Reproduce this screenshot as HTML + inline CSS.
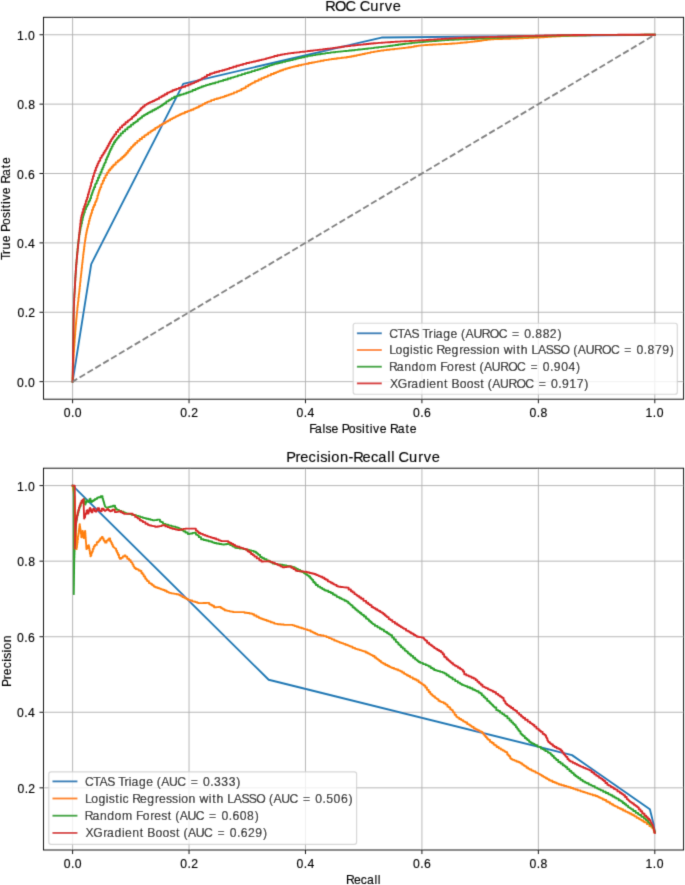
<!DOCTYPE html><html><head><meta charset="utf-8"><title>ROC and Precision-Recall Curves</title><style>html,body{margin:0;padding:0;background:#fff;}svg{display:block;}text{font-family:"Liberation Sans",sans-serif;fill:#000;font-kerning:none;stroke:#000;stroke-width:0.14px;}</style></head><body>
<svg width="685" height="885" viewBox="0 0 685 885">
<defs><filter id="soft" filterUnits="userSpaceOnUse" x="0" y="0" width="685" height="885"><feConvolveMatrix order="3" kernelMatrix="0.01690 0.09620 0.01690 0.09620 0.54760 0.09620 0.01690 0.09620 0.01690" edgeMode="duplicate"/></filter></defs>
<rect width="685" height="885" fill="#fff"/>
<g filter="url(#soft)">
<line x1="72.6" y1="17.3" x2="72.6" y2="399.2" stroke="#b0b0b0" stroke-width="0.92"/>
<line x1="189.04" y1="17.3" x2="189.04" y2="399.2" stroke="#b0b0b0" stroke-width="0.92"/>
<line x1="305.48" y1="17.3" x2="305.48" y2="399.2" stroke="#b0b0b0" stroke-width="0.92"/>
<line x1="421.92" y1="17.3" x2="421.92" y2="399.2" stroke="#b0b0b0" stroke-width="0.92"/>
<line x1="538.36" y1="17.3" x2="538.36" y2="399.2" stroke="#b0b0b0" stroke-width="0.92"/>
<line x1="654.8" y1="17.3" x2="654.8" y2="399.2" stroke="#b0b0b0" stroke-width="0.92"/>
<line x1="43.5" y1="381.65" x2="683.6" y2="381.65" stroke="#b0b0b0" stroke-width="0.92"/>
<line x1="43.5" y1="312.27" x2="683.6" y2="312.27" stroke="#b0b0b0" stroke-width="0.92"/>
<line x1="43.5" y1="242.89" x2="683.6" y2="242.89" stroke="#b0b0b0" stroke-width="0.92"/>
<line x1="43.5" y1="173.51" x2="683.6" y2="173.51" stroke="#b0b0b0" stroke-width="0.92"/>
<line x1="43.5" y1="104.13" x2="683.6" y2="104.13" stroke="#b0b0b0" stroke-width="0.92"/>
<line x1="43.5" y1="34.75" x2="683.6" y2="34.75" stroke="#b0b0b0" stroke-width="0.92"/>
<polyline points="72.6,381.65 91.23,264.05 183.22,83.8 381.52,37.53 654.8,34.75" fill="none" stroke="#1f77b4" stroke-width="1.85" stroke-linecap="square" stroke-linejoin="round"/>
<polyline points="72.6,381.65 72.62,381.65 72.62,380.42 72.71,380.42 72.71,377.3 72.83,377.3 72.83,374.41 72.93,374.41 72.93,372.86 73.01,372.86 73.01,370.67 73.1,370.67 73.1,368.6 73.2,368.6 73.2,366.01 73.32,366.01 73.32,363.05 73.42,363.05 73.42,361.92 73.47,361.92 73.47,360.97 73.56,360.97 73.56,357.88 73.69,357.88 73.69,355.86 73.81,355.86 73.81,352.98 73.91,352.98 73.91,352.09 73.99,352.09 73.99,350.04 74.13,350.04 74.13,347.26 74.26,347.26 74.26,345.78 74.42,345.78 74.42,342.41 74.65,342.41 74.65,339.16 74.8,339.16 74.8,338.2 74.87,338.2 74.87,337.26 74.99,337.26 74.99,334.95 75.21,334.95 75.21,331.6 75.41,331.6 75.41,329.72 75.55,329.72 75.55,328.28 75.69,328.28 75.69,326.29 75.81,326.29 75.81,325.34 75.91,325.34 75.91,323.88 76.06,323.88 76.06,321.85 76.25,321.85 76.25,319.67 76.41,319.67 76.41,318.18 76.55,318.18 76.55,316.69 76.68,316.69 76.68,315.24 76.84,315.24 76.84,313.16 77.02,313.16 77.02,311.52 77.14,311.52 77.14,310.59 77.35,310.59 77.35,307.51 77.63,307.51 77.63,305.18 77.9,305.18 77.9,302.62 78.12,302.62 78.12,301.26 78.4,301.26 78.4,297.78 78.78,297.78 78.78,294.65 79.02,294.65 79.02,293.46 79.19,293.46 79.19,291.71 79.44,291.71 79.44,288.94 79.74,288.94 79.74,286.2 80.06,286.2 80.06,282.87 80.34,282.87 80.34,280.88 80.6,280.88 80.6,277.83 80.9,277.83 80.9,275.19 81.13,275.19 81.13,273.52 81.35,273.52 81.35,271.1 81.66,271.1 81.66,267.91 82.01,267.91 82.01,264.82 82.3,264.82 82.3,262.62 82.57,262.62 82.57,260.2 82.76,260.2 82.76,259.24 82.9,259.24 82.9,257.72 83.15,257.72 83.15,254.76 83.44,254.76 83.44,252.8 83.63,252.8 83.63,251.47 83.86,251.47 83.86,249.16 84.17,249.16 84.17,246.45 84.52,246.45 84.52,243.81 84.83,243.81 84.83,241.96 85.1,241.96 85.1,239.94 85.41,239.94 85.41,237.74 85.81,237.74 85.81,234.85 86.26,234.85 86.26,232.63 86.67,232.63 86.67,230.75 87.1,230.75 87.1,228.63 87.45,228.63 87.45,227.7 87.67,227.7 87.67,226.73 88.11,226.73 88.11,224.07 88.87,224.07 88.87,220.71 89.61,220.71 89.61,218.34 90.19,218.34 90.19,216.49 90.63,216.49 90.63,215.22 91.13,215.22 91.13,213.1 91.97,213.1 91.97,209.8 93.03,209.8 93.03,207.08 94.01,207.08 94.01,204.97 95.11,204.97 95.11,202.08 96.02,202.08 96.02,200.69 96.66,200.69 96.66,198.58 97.49,198.58 97.49,195.32 98.29,195.32 98.29,193 98.93,193 98.93,191.01 99.5,191.01 99.5,189.51 100.18,189.51 100.18,187.34 101.25,187.34 101.25,184.18 102.07,184.18 102.07,183.36 102.84,183.36 102.84,180.66 104.09,180.66 104.09,177.91 105.5,177.91 105.5,175.07 107,175.07 107,172.66 108.62,172.66 108.62,170.21 110.21,170.21 110.21,168.46 111.71,168.46 111.71,166.7 113.18,166.7 113.18,165.24 114.22,165.24 114.22,164.49 115.73,164.49 115.73,162.31 117.79,162.31 117.79,160.77 119.24,160.77 119.24,159.87 120.63,159.87 120.63,158.45 122.3,158.45 122.3,157.04 123.78,157.04 123.78,155.79 125.06,155.79 125.06,154.49 126.43,154.49 126.43,152.75 127.97,152.75 127.97,150.78 129.55,150.78 129.55,148.84 131.03,148.84 131.03,147.28 132.05,147.28 132.05,146.58 132.88,146.58 132.88,145.5 133.86,145.5 133.86,144.53 135.21,144.53 135.21,142.87 137.29,142.87 137.29,140.82 139.66,140.82 139.66,138.96 142.01,138.96 142.01,137.15 144.42,137.15 144.42,135.35 146.28,135.35 146.28,134.44 148.17,134.44 148.17,132.65 150.53,132.65 150.53,131.13 152.07,131.13 152.07,130.51 152.91,130.51 152.91,129.99 153.67,129.99 153.67,129.48 155.26,129.48 155.26,127.9 157.11,127.9 157.11,127.07 158.25,127.07 158.25,126.45 159.82,126.45 159.82,125.12 161.66,125.12 161.66,124.2 162.88,124.2 162.88,123.65 163.9,123.65 163.9,123 165.45,123 165.45,121.86 167.01,121.86 167.01,121.21 168.28,121.21 168.28,120.42 170.19,120.42 170.19,119.1 172.31,119.1 172.31,118.12 174,118.12 174,117.31 175.71,117.31 175.71,116.35 177.09,116.35 177.09,115.93 178.36,115.93 178.36,115.09 180.11,115.09 180.11,114.24 181.64,114.24 181.64,113.68 182.8,113.68 182.8,113.21 184.85,113.21 184.85,111.97 187.39,111.97 187.39,111.16 189.09,111.16 189.09,110.64 190.91,110.64 190.91,109.73 193.46,109.73 193.46,108.55 195.29,108.55 195.29,108.17 196.13,108.17 196.13,107.77 197.12,107.77 197.12,107.22 198.93,107.22 198.93,105.97 200.75,105.97 200.75,105.37 202.54,105.37 202.54,104.1 204.95,104.1 204.95,102.89 207.19,102.89 207.19,101.9 208.9,101.9 208.9,101.31 211.19,101.31 211.19,100.08 214.22,100.08 214.22,99.16 216.72,99.16 216.72,98.53 218.5,98.53 218.5,98.12 220.45,98.12 220.45,97.38 222.61,97.38 222.61,96.8 224.66,96.8 224.66,96.01 226.61,96.01 226.61,95.43 228.62,95.43 228.62,94.56 230.3,94.56 230.3,94.21 231.56,94.21 231.56,93.62 233.94,93.62 233.94,92.35 237,92.35 237,91.09 239.24,91.09 239.24,90.38 241.4,90.38 241.4,88.93 243.53,88.93 243.53,88.08 245.7,88.08 245.7,86.33 248.34,86.33 248.34,84.84 250.41,84.84 250.41,83.84 251.94,83.84 251.94,83.09 253.01,83.09 253.01,82.66 254.84,82.66 254.84,81.24 256.72,81.24 256.72,80.81 258.53,80.81 258.53,79.52 261.47,79.52 261.47,78.1 264.12,78.1 264.12,77.14 265.82,77.14 265.82,76.61 267.89,76.61 267.89,75.36 270.94,75.36 270.94,74.03 273.79,74.03 273.79,72.98 276.09,72.98 276.09,72.14 277.99,72.14 277.99,71.44 279.7,71.44 279.7,70.79 281.2,70.79 281.2,70.29 283.12,70.29 283.12,69.4 285.33,69.4 285.33,68.76 286.96,68.76 286.96,68.34 288.17,68.34 288.17,68.02 290,68.02 290,67.31 292.07,67.31 292.07,66.9 293.95,66.9 293.95,66.38 295.86,66.38 295.86,65.98 298.26,65.98 298.26,65.29 301.41,65.29 301.41,64.61 303.45,64.61 303.45,64.41 304.59,64.41 304.59,64.12 306.14,64.12 306.14,63.76 308.7,63.76 308.7,63.04 311.85,63.04 311.85,62.46 314.16,62.46 314.16,62.11 315.74,62.11 315.74,61.84 317.75,61.84 317.75,61.34 320.58,61.34 320.58,60.77 323.74,60.77 323.74,60.19 326.27,60.19 326.27,59.89 328.74,59.89 328.74,59.37 331.65,59.37 331.65,58.98 334.06,58.98 334.06,58.7 336.85,58.7 336.85,58.28 339.33,58.28 339.33,58.1 341.46,58.1 341.46,57.77 343.39,57.77 343.39,57.63 344.6,57.63 344.6,57.46 346.88,57.46 346.88,56.98 349.22,56.98 349.22,56.76 351.35,56.76 351.35,56.25 353.98,56.25 353.98,55.77 356.71,55.77 356.71,55.14 359.13,55.14 359.13,54.76 360.9,54.76 360.9,54.38 362.58,54.38 362.58,54.02 364.93,54.02 364.93,53.35 367.69,53.35 367.69,52.84 370.57,52.84 370.57,52.16 373.82,52.16 373.82,51.57 376.01,51.57 376.01,51.36 377.77,51.36 377.77,50.98 379.5,50.98 379.5,50.81 380.55,50.81 380.55,50.67 381.57,50.67 381.57,50.51 383.67,50.51 383.67,50.1 386.71,50.1 386.71,49.75 389.71,49.75 389.71,49.4 392.11,49.4 392.11,49.2 394.24,49.2 394.24,48.93 396.95,48.93 396.95,48.62 399.35,48.62 399.35,48.41 401.47,48.41 401.47,48.15 403.38,48.15 403.38,47.98 404.66,47.98 404.66,47.86 405.99,47.86 405.99,47.66 408.38,47.66 408.38,47.22 411.15,47.22 411.15,46.84 413.95,46.84 413.95,46.27 416.62,46.27 416.62,45.93 418.45,45.93 418.45,45.69 420.71,45.69 420.71,45.34 423.71,45.34 423.71,45.07 425.69,45.07 425.69,45 427.47,45 427.47,44.83 429.35,44.83 429.35,44.76 430.5,44.76 430.5,44.7 432.7,44.7 432.7,44.53 434.79,44.53 434.79,44.48 436.04,44.48 436.04,44.41 438.54,44.41 438.54,44.25 441.28,44.25 441.28,44.16 442.86,44.16 442.86,44.11 444.12,44.11 444.12,44.04 445.53,44.04 445.53,43.97 447.71,43.97 447.71,43.82 449.71,43.82 449.71,43.75 451.92,43.75 451.92,43.53 454.5,43.53 454.5,43.39 457.15,43.39 457.15,43.1 460.49,43.1 460.49,42.79 462.95,42.79 462.95,42.63 464.55,42.63 464.55,42.47 466.38,42.47 466.38,42.24 468.01,42.24 468.01,42.12 469.87,42.12 469.87,41.83 471.66,41.83 471.66,41.72 472.6,41.72 472.6,41.62 474.77,41.62 474.77,41.22 477.32,41.22 477.32,41.02 479.36,41.02 479.36,40.71 481.6,40.71 481.6,40.4 483.47,40.4 483.47,40.14 484.83,40.14 484.83,39.99 486.98,39.99 486.98,39.57 490.33,39.57 490.33,39.29 493.76,39.29 493.76,39.13 496.06,39.13 496.06,39.08 497.37,39.08 497.37,39.04 499.35,39.04 499.35,38.98 502.34,38.98 502.34,38.91 505.23,38.91 505.23,38.85 507.73,38.85 507.73,38.76 510.4,38.76 510.4,38.67 512.49,38.67 512.49,38.61 514.42,38.61 514.42,38.52 516.42,38.52 516.42,38.45 518.03,38.45 518.03,38.39 519.34,38.39 519.34,38.34 520.7,38.34 520.7,38.28 523.25,38.28 523.25,38.13 526.02,38.13 526.02,38.05 528.34,38.05 528.34,37.93 530.93,37.93 530.93,37.82 533.9,37.82 533.9,37.66 536.53,37.66 536.53,37.57 538.33,37.57 538.33,37.48 540.05,37.48 540.05,37.39 541.77,37.39 541.77,37.29 544.19,37.29 544.19,37.1 547.36,37.1 547.36,36.89 549.81,36.89 549.81,36.78 551.53,36.78 551.53,36.66 553.56,36.66 553.56,36.5 555.92,36.5 555.92,36.35 558.35,36.35 558.35,36.2 560.33,36.2 560.33,36.11 561.56,36.11 561.56,36.06 562.79,36.06 562.79,35.97 564.09,35.97 564.09,35.92 565.79,35.92 565.79,35.81 567.49,35.81 567.49,35.75 568.56,35.75 568.56,35.71 570.37,35.71 570.37,35.61 572.47,35.61 572.47,35.55 574.78,35.55 574.78,35.47 577.36,35.47 577.36,35.42 580.03,35.42 580.03,35.34 582.25,35.34 582.25,35.31 583.99,35.31 583.99,35.28 586.59,35.28 586.59,35.23 588.62,35.23 588.62,35.21 590.85,35.21 590.85,35.16 593.21,35.16 593.21,35.14 595.35,35.14 595.35,35.1 598.55,35.1 598.55,35.07 601.81,35.07 601.81,35.04 604.2,35.04 604.2,35.02 605.64,35.02 605.64,35.01 607.34,35.01 607.34,34.98 610.12,34.98 610.12,34.96 612.6,34.96 612.6,34.95 615.04,34.95 615.04,34.92 617.29,34.92 617.29,34.91 619.56,34.91 619.56,34.89 621.68,34.89 621.68,34.88 623.02,34.88 623.02,34.87 625.51,34.87 625.51,34.85 628.64,34.85 628.64,34.84 631.78,34.84 631.78,34.82 634.97,34.82 634.97,34.81 637.95,34.81 637.95,34.8 640.72,34.8 640.72,34.79 642.75,34.79 642.75,34.78 644.43,34.78 644.43,34.77 646.09,34.77 646.09,34.77 648.12,34.77 648.12,34.76 650.83,34.76 650.83,34.76 652.92,34.76 652.92,34.75 654.22,34.75 654.22,34.75 654.77,34.75 654.77,34.75 654.8,34.75" fill="none" stroke="#ff7f0e" stroke-width="1.85" stroke-linecap="square" stroke-linejoin="round"/>
<polyline points="72.6,381.65 72.61,381.65 72.61,380.42 72.65,380.42 72.65,377.3 72.7,377.3 72.7,374.4 72.74,374.4 72.74,372.85 72.77,372.85 72.77,370.66 72.81,370.66 72.81,368.6 72.85,368.6 72.85,366 72.89,366 72.89,363.03 72.93,363.03 72.93,361.91 72.94,361.91 72.94,360.95 72.98,360.95 72.98,357.87 73.02,357.87 73.02,355.84 73.06,355.84 73.06,352.95 73.09,352.95 73.09,352.07 73.12,352.07 73.12,350.01 73.16,350.01 73.16,347.23 73.19,347.23 73.19,345.74 73.23,345.74 73.23,342.37 73.29,342.37 73.29,339.11 73.32,339.11 73.32,338.15 73.33,338.15 73.33,337.2 73.36,337.2 73.36,334.89 73.39,334.89 73.39,331.53 73.43,331.53 73.43,329.65 73.45,329.65 73.45,328.19 73.47,328.19 73.47,326.2 73.49,326.2 73.49,325.24 73.5,325.24 73.5,323.78 73.53,323.78 73.53,321.74 73.56,321.74 73.56,319.55 73.58,319.55 73.58,318.06 73.61,318.06 73.61,316.57 73.63,316.57 73.63,315.11 73.67,315.11 73.67,313.02 73.71,313.02 73.71,311.37 73.74,311.37 73.74,310.44 73.8,310.44 73.8,307.35 73.88,307.35 73.88,305 73.97,305 73.97,302.43 74.04,302.43 74.04,301.06 74.16,301.06 74.16,297.56 74.34,297.56 74.34,294.42 74.47,294.42 74.47,293.22 74.56,293.22 74.56,291.46 74.69,291.46 74.69,288.68 74.85,288.68 74.85,285.93 75.02,285.93 75.02,282.58 75.17,282.58 75.17,280.59 75.32,280.59 75.32,277.53 75.48,277.53 75.48,274.88 75.62,274.88 75.62,273.2 75.75,273.2 75.75,270.78 75.95,270.78 75.95,267.58 76.18,267.58 76.18,264.47 76.39,264.47 76.39,262.26 76.57,262.26 76.57,259.84 76.71,259.84 76.71,258.87 76.81,258.87 76.81,257.35 76.99,257.35 76.99,254.38 77.21,254.38 77.21,252.41 77.35,252.41 77.35,251.08 77.53,251.08 77.53,248.76 77.77,248.76 77.77,246.04 78.06,246.04 78.06,243.4 78.33,243.4 78.33,241.54 78.57,241.54 78.57,239.52 78.86,239.52 78.86,237.32 79.25,237.32 79.25,234.42 79.67,234.42 79.67,232.2 80.04,232.2 80.04,230.31 80.42,230.31 80.42,228.18 80.72,228.18 80.72,227.24 80.92,227.24 80.92,226.27 81.3,226.27 81.3,223.59 81.96,223.59 81.96,220.19 82.59,220.19 82.59,217.81 83.07,217.81 83.07,215.94 83.45,215.94 83.45,214.65 83.91,214.65 83.91,212.52 84.78,212.52 84.78,209.24 85.96,209.24 85.96,206.6 87.11,206.6 87.11,204.56 88.37,204.56 88.37,201.76 89.39,201.76 89.39,200.4 90.11,200.4 90.11,198.32 91.06,198.32 91.06,195.1 91.98,195.1 91.98,192.82 92.69,192.82 92.69,190.84 93.31,190.84 93.31,189.35 94.02,189.35 94.02,187.19 95.13,187.19 95.13,184.06 95.98,184.06 95.98,183.24 96.76,183.24 96.76,180.55 97.99,180.55 97.99,177.77 99.26,177.77 99.26,174.82 100.48,174.82 100.48,172.22 101.62,172.22 101.62,169.44 102.64,169.44 102.64,167.36 103.53,167.36 103.53,165.18 104.37,165.18 104.37,163.33 104.95,163.33 104.95,162.39 105.77,162.39 105.77,159.46 106.87,159.46 106.87,157.28 107.63,157.28 107.63,155.99 108.34,155.99 108.34,153.95 109.2,153.95 109.2,151.96 109.98,151.96 109.98,150.29 110.71,150.29 110.71,148.66 111.58,148.66 111.58,146.58 112.68,146.58 112.68,144.36 113.93,144.36 113.93,142.23 115.17,142.23 115.17,140.5 116.04,140.5 116.04,139.73 116.76,139.73 116.76,138.54 117.63,138.54 117.63,137.48 118.83,137.48 118.83,135.63 120.69,135.63 120.69,133.34 122.88,133.34 122.88,131.33 125.11,131.33 125.11,129.38 127.41,129.38 127.41,127.43 129.18,127.43 129.18,126.46 131.01,126.46 131.01,124.56 133.3,124.56 133.3,122.97 134.81,122.97 134.81,122.32 135.62,122.32 135.62,121.77 136.36,121.77 136.36,121.21 137.85,121.21 137.85,119.42 139.56,119.42 139.56,118.43 140.6,118.43 140.6,117.68 142.05,117.68 142.05,116.15 143.81,116.15 143.81,115.16 145,115.16 145,114.6 146.02,114.6 146.02,113.95 147.57,113.95 147.57,112.85 149.15,112.85 149.15,112.22 150.44,112.22 150.44,111.48 152.37,111.48 152.37,110.2 154.51,110.2 154.51,109.22 156.19,109.22 156.19,108.39 157.88,108.39 157.88,107.34 159.21,107.34 159.21,106.87 160.42,106.87 160.42,105.85 162.05,105.85 162.05,104.74 163.44,104.74 163.44,103.95 164.48,103.95 164.48,103.28 166.29,103.28 166.29,101.4 168.54,101.4 168.54,100.15 170.06,100.15 170.06,99.38 171.73,99.38 171.73,98.13 174.17,98.13 174.17,96.79 175.96,96.79 175.96,96.44 176.82,96.44 176.82,96.09 177.85,96.09 177.85,95.66 179.76,95.66 179.76,94.77 181.7,94.77 181.7,94.38 183.63,94.38 183.63,93.56 186.2,93.56 186.2,92.7 188.54,92.7 188.54,91.88 190.31,91.88 190.31,91.33 192.58,91.33 192.58,90 195.55,90 195.55,88.83 197.96,88.83 197.96,87.97 199.68,87.97 199.68,87.43 201.57,87.43 201.57,86.52 203.7,86.52 203.7,85.9 205.75,85.9 205.75,85.18 207.72,85.18 207.72,84.68 209.77,84.68 209.77,83.97 211.5,83.97 211.5,83.69 212.8,83.69 212.8,83.24 215.25,83.24 215.25,82.3 218.43,82.3 218.43,81.38 220.77,81.38 220.77,80.9 223.08,80.9 223.08,79.98 225.4,79.98 225.4,79.48 227.82,79.48 227.82,78.49 230.78,78.49 230.78,77.64 233.08,77.64 233.08,77.06 234.76,77.06 234.76,76.6 235.93,76.6 235.93,76.33 237.89,76.33 237.89,75.38 239.89,75.38 239.89,75.08 241.81,75.08 241.81,74.18 244.89,74.18 244.89,73.17 247.67,73.17 247.67,72.47 249.45,72.47 249.45,72.08 251.6,72.08 251.6,71.15 254.77,71.15 254.77,70.14 257.72,70.14 257.72,69.32 260.09,69.32 260.09,68.65 262.04,68.65 262.04,68.07 263.78,68.07 263.78,67.48 265.3,67.48 265.3,66.99 267.21,66.99 267.21,66.05 269.41,66.05 269.41,65.38 271.02,65.38 271.02,64.95 272.24,64.95 272.24,64.62 274.06,64.62 274.06,63.91 276.14,63.91 276.14,63.5 278.01,63.5 278.01,62.97 279.93,62.97 279.93,62.56 282.32,62.56 282.32,61.84 285.45,61.84 285.45,61.1 287.49,61.1 287.49,60.89 288.63,60.89 288.63,60.57 290.16,60.57 290.16,60.16 292.7,60.16 292.7,59.32 295.82,59.32 295.82,58.59 298.11,58.59 298.11,58.15 299.67,58.15 299.67,57.8 301.66,57.8 301.66,57.2 304.47,57.2 304.47,56.55 307.62,56.55 307.62,55.93 310.14,55.93 310.14,55.6 312.61,55.6 312.61,55.06 315.52,55.06 315.52,54.62 317.91,54.62 317.91,54.29 320.7,54.29 320.7,53.77 323.16,53.77 323.16,53.55 325.29,53.55 325.29,53.16 327.22,53.16 327.22,53.01 328.42,53.01 328.42,52.83 330.71,52.83 330.71,52.41 333.06,52.41 333.06,52.24 335.21,52.24 335.21,51.93 337.86,51.93 337.86,51.67 340.63,51.67 340.63,51.37 343.1,51.37 343.1,51.19 344.9,51.19 344.9,51.01 346.61,51.01 346.61,50.85 349,50.85 349,50.52 351.81,50.52 351.81,50.25 354.73,50.25 354.73,49.87 358.02,49.87 358.02,49.51 360.24,49.51 360.24,49.38 362.01,49.38 362.01,49.11 363.75,49.11 363.75,48.98 364.81,48.98 364.81,48.87 365.83,48.87 365.83,48.75 367.94,48.75 367.94,48.39 370.98,48.39 370.98,48.05 373.97,48.05 373.97,47.69 376.38,47.69 376.38,47.48 378.51,47.48 378.51,47.19 381.21,47.19 381.21,46.83 383.61,46.83 383.61,46.6 385.72,46.6 385.72,46.3 387.63,46.3 387.63,46.11 388.91,46.11 388.91,45.96 390.23,45.96 390.23,45.75 392.62,45.75 392.62,45.3 395.39,45.3 395.39,44.96 398.21,44.96 398.21,44.5 400.89,44.5 400.89,44.22 402.72,44.22 402.72,44.01 404.99,44.01 404.99,43.65 407.98,43.65 407.98,43.3 409.96,43.3 409.96,43.21 411.73,43.21 411.73,42.92 413.6,42.92 413.6,42.81 414.75,42.81 414.75,42.69 416.94,42.69 416.94,42.37 419.03,42.37 419.03,42.27 420.27,42.27 420.27,42.13 422.76,42.13 422.76,41.81 425.49,41.81 425.49,41.63 427.08,41.63 427.08,41.53 428.32,41.53 428.32,41.41 429.74,41.41 429.74,41.28 431.91,41.28 431.91,41.05 433.9,41.05 433.9,40.96 436.11,40.96 436.11,40.71 438.69,40.71 438.69,40.57 441.34,40.57 441.34,40.33 444.7,40.33 444.7,40.12 447.16,40.12 447.16,40.02 448.76,40.02 448.76,39.94 450.6,39.94 450.6,39.83 452.24,39.83 452.24,39.78 454.11,39.78 454.11,39.66 455.9,39.66 455.9,39.62 456.85,39.62 456.85,39.58 459.04,39.58 459.04,39.44 461.6,39.44 461.6,39.38 463.66,39.38 463.66,39.28 465.92,39.28 465.92,39.21 467.8,39.21 467.8,39.14 469.18,39.14 469.18,39.1 471.35,39.1 471.35,38.97 474.71,38.97 474.71,38.83 478.15,38.83 478.15,38.67 480.45,38.67 480.45,38.61 481.76,38.61 481.76,38.54 483.74,38.54 483.74,38.41 486.72,38.41 486.72,38.23 489.61,38.23 489.61,38.1 492.11,38.1 492.11,37.96 494.77,37.96 494.77,37.82 496.86,37.82 496.86,37.74 498.8,37.74 498.8,37.62 500.79,37.62 500.79,37.54 502.4,37.54 502.4,37.47 503.71,37.47 503.71,37.42 505.07,37.42 505.07,37.34 507.62,37.34 507.62,37.2 510.38,37.2 510.38,37.12 512.71,37.12 512.71,37.02 515.3,37.02 515.3,36.92 518.27,36.92 518.27,36.79 520.91,36.79 520.91,36.72 522.71,36.72 522.71,36.66 524.42,36.66 524.42,36.6 526.15,36.6 526.15,36.54 528.57,36.54 528.57,36.43 531.74,36.43 531.74,36.33 534.2,36.33 534.2,36.28 535.92,36.28 535.92,36.22 537.96,36.22 537.96,36.15 540.32,36.15 540.32,36.08 542.75,36.08 542.75,36.01 544.74,36.01 544.74,35.96 545.97,35.96 545.97,35.94 547.2,35.94 547.2,35.9 548.49,35.9 548.49,35.87 550.2,35.87 550.2,35.81 551.9,35.81 551.9,35.78 552.97,35.78 552.97,35.75 554.79,35.75 554.79,35.69 556.89,35.69 556.89,35.65 559.2,35.65 559.2,35.58 561.77,35.58 561.77,35.54 564.44,35.54 564.44,35.47 566.66,35.47 566.66,35.45 568.41,35.45 568.41,35.41 571,35.41 571,35.37 573.03,35.37 573.03,35.35 575.27,35.35 575.27,35.3 577.63,35.3 577.63,35.28 579.76,35.28 579.76,35.24 582.96,35.24 582.96,35.21 586.23,35.21 586.23,35.17 588.62,35.17 588.62,35.15 590.06,35.15 590.06,35.14 591.76,35.14 591.76,35.12 594.53,35.12 594.53,35.09 597.01,35.09 597.01,35.08 599.46,35.08 599.46,35.05 601.71,35.05 601.71,35.04 603.97,35.04 603.97,35.01 606.1,35.01 606.1,35.01 607.44,35.01 607.44,34.99 609.93,34.99 609.93,34.97 613.06,34.97 613.06,34.95 616.2,34.95 616.2,34.93 619.39,34.93 619.39,34.91 622.36,34.91 622.36,34.9 625.13,34.9 625.13,34.88 627.16,34.88 627.16,34.87 628.85,34.87 628.85,34.86 630.51,34.86 630.51,34.85 632.54,34.85 632.54,34.84 635.24,34.84 635.24,34.83 637.34,34.83 637.34,34.82 638.64,34.82 638.64,34.81 640.87,34.81 640.87,34.8 644.09,34.8 644.09,34.79 646.76,34.79 646.76,34.78 649.08,34.78 649.08,34.77 651.8,34.77 651.8,34.76 654.08,34.76 654.08,34.75 654.8,34.75" fill="none" stroke="#2ca02c" stroke-width="1.85" stroke-linecap="square" stroke-linejoin="round"/>
<polyline points="72.6,381.65 72.61,381.65 72.61,380.42 72.65,380.42 72.65,377.3 72.7,377.3 72.7,374.4 72.74,374.4 72.74,372.85 72.77,372.85 72.77,370.66 72.81,370.66 72.81,368.6 72.85,368.6 72.85,366 72.89,366 72.89,363.03 72.93,363.03 72.93,361.91 72.94,361.91 72.94,360.95 72.98,360.95 72.98,357.87 73.02,357.87 73.02,355.84 73.06,355.84 73.06,352.95 73.09,352.95 73.09,352.07 73.12,352.07 73.12,350.01 73.16,350.01 73.16,347.23 73.19,347.23 73.19,345.74 73.23,345.74 73.23,342.37 73.29,342.37 73.29,339.11 73.32,339.11 73.32,338.15 73.33,338.15 73.33,337.2 73.36,337.2 73.36,334.89 73.39,334.89 73.39,331.53 73.43,331.53 73.43,329.65 73.45,329.65 73.45,328.19 73.47,328.19 73.47,326.2 73.49,326.2 73.49,325.24 73.5,325.24 73.5,323.78 73.53,323.78 73.53,321.74 73.56,321.74 73.56,319.55 73.58,319.55 73.58,318.06 73.61,318.06 73.61,316.57 73.63,316.57 73.63,315.11 73.67,315.11 73.67,313.02 73.71,313.02 73.71,311.37 73.74,311.37 73.74,310.44 73.8,310.44 73.8,307.35 73.88,307.35 73.88,305 73.97,305 73.97,302.43 74.04,302.43 74.04,301.06 74.16,301.06 74.16,297.56 74.34,297.56 74.34,294.42 74.47,294.42 74.47,293.22 74.56,293.22 74.56,291.46 74.69,291.46 74.69,288.68 74.85,288.68 74.85,285.93 75.02,285.93 75.02,282.58 75.17,282.58 75.17,280.59 75.31,280.59 75.31,277.53 75.48,277.53 75.48,274.88 75.61,274.88 75.61,273.2 75.75,273.2 75.75,270.78 75.95,270.78 75.95,267.58 76.19,267.58 76.19,264.47 76.41,264.47 76.41,262.27 76.61,262.27 76.61,259.84 76.77,259.84 76.77,258.88 76.88,258.88 76.88,257.36 77.1,257.36 77.1,254.39 77.34,254.39 77.34,252.43 77.51,252.43 77.51,251.1 77.69,251.1 77.69,248.78 77.95,248.78 77.95,246.06 78.23,246.06 78.23,243.41 78.46,243.41 78.46,241.55 78.66,241.55 78.66,239.52 78.87,239.52 78.87,237.31 79.12,237.31 79.12,234.39 79.37,234.39 79.37,232.14 79.57,232.14 79.57,230.24 79.78,230.24 79.78,228.07 79.94,228.07 79.94,227.12 80.04,227.12 80.04,226.13 80.26,226.13 80.26,223.41 80.64,223.41 80.64,219.97 81.07,219.97 81.07,217.56 81.47,217.56 81.47,215.68 81.83,215.68 81.83,214.39 82.31,214.39 82.31,212.28 83.15,212.28 83.15,208.97 84.13,208.97 84.13,206.2 84.97,206.2 84.97,204.02 85.83,204.02 85.83,201.03 86.55,201.03 86.55,199.6 87.09,199.6 87.09,197.46 87.88,197.46 87.88,194.2 88.68,194.2 88.68,191.88 89.29,191.88 89.29,189.87 89.79,189.87 89.79,188.34 90.32,188.34 90.32,186.1 91.09,186.1 91.09,182.81 91.66,182.81 91.66,181.95 92.15,181.95 92.15,179.1 92.94,179.1 92.94,176.17 93.85,176.17 93.85,173.1 94.82,173.1 94.82,170.43 95.83,170.43 95.83,167.61 96.79,167.61 96.79,165.53 97.68,165.53 97.68,163.37 98.58,163.37 98.58,161.55 99.24,161.55 99.24,160.63 100.23,160.63 100.23,157.84 101.59,157.84 101.59,155.79 102.57,155.79 102.57,154.59 103.53,154.59 103.53,152.72 104.68,152.72 104.68,150.88 105.72,150.88 105.72,149.32 106.64,149.32 106.64,147.77 107.64,147.77 107.64,145.75 108.79,145.75 108.79,143.52 109.99,143.52 109.99,141.33 111.12,141.33 111.12,139.53 111.9,139.53 111.9,138.72 112.56,138.72 112.56,137.48 113.34,137.48 113.34,136.36 114.43,136.36 114.43,134.39 116.09,134.39 116.09,131.88 117.99,131.88 117.99,129.58 119.97,129.58 119.97,127.41 122.09,127.41 122.09,125.32 123.77,125.32 123.77,124.28 125.52,124.28 125.52,122.26 127.74,122.26 127.74,120.6 129.2,120.6 129.2,119.91 129.99,119.91 129.99,119.32 130.7,119.32 130.7,118.73 132.12,118.73 132.12,116.83 133.77,116.83 133.77,115.79 134.77,115.79 134.77,114.99 136.1,114.99 136.1,113.23 137.61,113.23 137.61,111.91 138.58,111.91 138.58,111.13 139.37,111.13 139.37,110.16 140.59,110.16 140.59,108.51 141.83,108.51 141.83,107.57 142.89,107.57 142.89,106.5 144.59,106.5 144.59,104.86 146.6,104.86 146.6,103.8 148.27,103.8 148.27,103.03 150.01,103.03 150.01,102.13 151.41,102.13 151.41,101.75 152.7,101.75 152.7,100.96 154.46,100.96 154.46,100.1 155.97,100.1 155.97,99.48 157.1,99.48 157.1,98.92 159.03,98.92 159.03,97.32 161.41,97.32 161.41,96.2 162.99,96.2 162.99,95.48 164.69,95.48 164.69,94.25 167.1,94.25 167.1,92.79 168.84,92.79 168.84,92.36 169.67,92.36 169.67,91.94 170.65,91.94 170.65,91.39 172.49,91.39 172.49,90.26 174.37,90.26 174.37,89.78 176.26,89.78 176.26,88.84 178.81,88.84 178.81,87.97 181.17,87.97 181.17,87.25 182.97,87.25 182.97,86.78 185.29,86.78 185.29,85.64 188.31,85.64 188.31,84.54 190.73,84.54 190.73,83.68 192.45,83.68 192.45,83.1 194.3,83.1 194.3,82.05 196.36,82.05 196.36,81.24 198.31,81.24 198.31,80.2 200.16,80.2 200.16,79.41 202.03,79.41 202.03,78.13 203.58,78.13 203.58,77.59 204.73,77.59 204.73,76.71 206.93,76.71 206.93,75.01 209.88,75.01 209.88,73.72 212.13,73.72 212.13,73.15 214.43,73.15 214.43,72.23 216.75,72.23 216.75,71.79 219.2,71.79 219.2,70.94 222.2,70.94 222.2,70.2 224.52,70.2 224.52,69.65 226.21,69.65 226.21,69.2 227.38,69.2 227.38,68.94 229.34,68.94 229.34,67.98 231.33,67.98 231.33,67.69 233.25,67.69 233.25,66.78 236.34,66.78 236.34,65.77 239.12,65.77 239.12,65.09 240.9,65.09 240.9,64.71 243.07,64.71 243.07,63.87 246.27,63.87 246.27,63.02 249.27,63.02 249.27,62.39 251.69,62.39 251.69,61.89 253.69,61.89 253.69,61.47 255.48,61.47 255.48,61.07 257.05,61.07 257.05,60.76 259.04,60.76 259.04,60.16 261.31,60.16 261.31,59.68 262.97,59.68 262.97,59.35 264.21,59.35 264.21,59.06 266.04,59.06 266.04,58.37 268.12,58.37 268.12,57.93 269.98,57.93 269.98,57.33 271.87,57.33 271.87,56.87 274.25,56.87 274.25,56.04 277.36,56.04 277.36,55.27 279.4,55.27 279.4,55.06 280.54,55.06 280.54,54.77 282.08,54.77 282.08,54.44 284.66,54.44 284.66,53.85 287.83,53.85 287.83,53.42 290.17,53.42 290.17,53.17 291.76,53.17 291.76,52.99 293.8,52.99 293.8,52.66 296.66,52.66 296.66,52.3 299.85,52.3 299.85,51.91 302.4,51.91 302.4,51.7 304.88,51.7 304.88,51.31 307.81,51.31 307.81,50.98 310.22,50.98 310.22,50.73 313.02,50.73 313.02,50.33 315.49,50.33 315.49,50.16 317.62,50.16 317.62,49.84 319.56,49.84 319.56,49.72 320.77,49.72 320.77,49.57 323.06,49.57 323.06,49.19 325.41,49.19 325.41,49.02 327.56,49.02 327.56,48.67 330.21,48.67 330.21,48.36 332.97,48.36 332.97,47.94 335.42,47.94 335.42,47.68 337.22,47.68 337.22,47.43 338.92,47.43 338.92,47.2 341.3,47.2 341.3,46.77 344.1,46.77 344.1,46.44 347.01,46.44 347.01,46.01 350.3,46.01 350.3,45.64 352.51,45.64 352.51,45.49 354.29,45.49 354.29,45.23 356.02,45.23 356.02,45.11 357.08,45.11 357.08,45 358.11,45 358.11,44.89 360.21,44.89 360.21,44.55 363.26,44.55 363.26,44.25 366.26,44.25 366.26,43.95 368.67,43.95 368.67,43.78 370.8,43.78 370.8,43.54 373.52,43.54 373.52,43.28 375.92,43.28 375.92,43.11 378.04,43.11 378.04,42.92 379.97,42.92 379.97,42.8 381.24,42.8 381.24,42.71 382.58,42.71 382.58,42.59 384.98,42.59 384.98,42.36 387.78,42.36 387.78,42.2 390.62,42.2 390.62,41.99 393.32,41.99 393.32,41.87 395.16,41.87 395.16,41.77 397.44,41.77 397.44,41.6 400.45,41.6 400.45,41.43 402.44,41.43 402.44,41.39 404.22,41.39 404.22,41.24 406.1,41.24 406.1,41.18 407.25,41.18 407.25,41.12 409.45,41.12 409.45,40.95 411.55,40.95 411.55,40.9 412.79,40.9 412.79,40.81 415.29,40.81 415.29,40.62 418.03,40.62 418.03,40.51 419.61,40.51 419.61,40.44 420.86,40.44 420.86,40.36 422.28,40.36 422.28,40.26 424.46,40.26 424.46,40.08 426.45,40.08 426.45,40.01 428.66,40.01 428.66,39.78 431.24,39.78 431.24,39.65 433.89,39.65 433.89,39.41 437.24,39.41 437.24,39.19 439.71,39.19 439.71,39.07 441.31,39.07 441.31,38.97 443.15,38.97 443.15,38.83 444.78,38.83 444.78,38.76 446.65,38.76 446.65,38.6 448.44,38.6 448.44,38.55 449.39,38.55 449.39,38.49 451.58,38.49 451.58,38.31 454.14,38.31 454.14,38.23 456.19,38.23 456.19,38.12 458.45,38.12 458.45,38.03 460.34,38.03 460.34,37.95 461.71,37.95 461.71,37.91 463.88,37.91 463.88,37.79 467.25,37.79 467.25,37.66 470.68,37.66 470.68,37.54 472.99,37.54 472.99,37.5 474.3,37.5 474.3,37.46 476.28,37.46 476.28,37.38 479.27,37.38 479.27,37.28 482.16,37.28 482.16,37.21 484.66,37.21 484.66,37.13 487.32,37.13 487.32,37.06 489.41,37.06 489.41,37.02 491.35,37.02 491.35,36.95 493.35,36.95 493.35,36.91 494.96,36.91 494.96,36.87 496.27,36.87 496.27,36.84 497.63,36.84 497.63,36.79 500.18,36.79 500.18,36.7 502.95,36.7 502.95,36.64 505.28,36.64 505.28,36.57 507.87,36.57 507.87,36.5 510.84,36.5 510.84,36.41 513.47,36.41 513.47,36.35 515.27,36.35 515.27,36.31 516.99,36.31 516.99,36.26 518.72,36.26 518.72,36.21 521.13,36.21 521.13,36.12 524.31,36.12 524.31,36.03 526.77,36.03 526.77,35.98 528.49,35.98 528.49,35.93 530.53,35.93 530.53,35.87 532.89,35.87 532.89,35.8 535.32,35.8 535.32,35.74 537.31,35.74 537.31,35.7 538.54,35.7 538.54,35.67 539.77,35.67 539.77,35.64 541.06,35.64 541.06,35.61 542.77,35.61 542.77,35.55 544.47,35.55 544.47,35.53 545.54,35.53 545.54,35.5 547.36,35.5 547.36,35.44 549.46,35.44 549.46,35.41 551.77,35.41 551.77,35.34 554.34,35.34 554.34,35.3 557.01,35.3 557.01,35.24 559.24,35.24 559.24,35.22 560.98,35.22 560.98,35.18 563.57,35.18 563.57,35.14 565.6,35.14 565.6,35.12 567.84,35.12 567.84,35.07 570.2,35.07 570.2,35.06 572.33,35.06 572.33,35.03 575.54,35.03 575.54,34.99 578.8,34.99 578.8,34.97 581.19,34.97 581.19,34.95 582.63,34.95 582.63,34.95 584.33,34.95 584.33,34.93 587.1,34.93 587.1,34.91 589.58,34.91 589.58,34.9 592.03,34.9 592.03,34.88 594.28,34.88 594.28,34.88 596.55,34.88 596.55,34.86 598.67,34.86 598.67,34.86 600.01,34.86 600.01,34.85 602.5,34.85 602.5,34.84 605.63,34.84 605.63,34.82 608.77,34.82 608.77,34.82 611.96,34.82 611.96,34.81 614.93,34.81 614.93,34.8 617.71,34.8 617.71,34.79 619.73,34.79 619.73,34.79 621.42,34.79 621.42,34.78 623.08,34.78 623.08,34.78 625.11,34.78 625.11,34.78 627.82,34.78 627.82,34.77 629.91,34.77 629.91,34.77 631.21,34.77 631.21,34.77 633.45,34.77 633.45,34.76 636.66,34.76 636.66,34.76 639.34,34.76 639.34,34.76 641.66,34.76 641.66,34.75 644.37,34.75 644.37,34.75 646.98,34.75 646.98,34.75 648.98,34.75 648.98,34.75 650.83,34.75 650.83,34.75 652.49,34.75 652.49,34.75 653.75,34.75 653.75,34.75 654.51,34.75 654.51,34.75 654.8,34.75" fill="none" stroke="#d62728" stroke-width="1.85" stroke-linecap="square" stroke-linejoin="round"/>
<line x1="72.6" y1="381.65" x2="654.8" y2="34.75" stroke="#808080" stroke-width="1.85" stroke-dasharray="6.4 2.77" stroke-dashoffset="1.05"/>
<rect x="43.5" y="17.3" width="640.1" height="381.9" fill="none" stroke="#000" stroke-width="0.92"/>
<line x1="72.6" y1="399.2" x2="72.6" y2="403.24" stroke="#000" stroke-width="0.92"/>
<text x="63.71 70.9 74.7" y="417.2" font-size="12.2">0.0</text>
<line x1="189.04" y1="399.2" x2="189.04" y2="403.24" stroke="#000" stroke-width="0.92"/>
<text x="180.35 187.54 191.19" y="417.2" font-size="12.2">0.2</text>
<line x1="305.48" y1="399.2" x2="305.48" y2="403.24" stroke="#000" stroke-width="0.92"/>
<text x="296.53 303.72 307.52" y="417.2" font-size="12.2">0.4</text>
<line x1="421.92" y1="399.2" x2="421.92" y2="403.24" stroke="#000" stroke-width="0.92"/>
<text x="413.01 420.2 424" y="417.2" font-size="12.2">0.6</text>
<line x1="538.36" y1="399.2" x2="538.36" y2="403.24" stroke="#000" stroke-width="0.92"/>
<text x="529.48 536.67 540.47" y="417.2" font-size="12.2">0.8</text>
<line x1="654.8" y1="399.2" x2="654.8" y2="403.24" stroke="#000" stroke-width="0.92"/>
<text x="645.6 652.85 656.65" y="417.2" font-size="12.2">1.0</text>
<line x1="39.46" y1="381.65" x2="43.5" y2="381.65" stroke="#000" stroke-width="0.92"/>
<text x="17.11 24.3 28.1" y="386.85" font-size="12.2">0.0</text>
<line x1="39.46" y1="312.27" x2="43.5" y2="312.27" stroke="#000" stroke-width="0.92"/>
<text x="17.5 24.69 28.34" y="317.47" font-size="12.2">0.2</text>
<line x1="39.46" y1="242.89" x2="43.5" y2="242.89" stroke="#000" stroke-width="0.92"/>
<text x="17 24.19 27.99" y="248.09" font-size="12.2">0.4</text>
<line x1="39.46" y1="173.51" x2="43.5" y2="173.51" stroke="#000" stroke-width="0.92"/>
<text x="17.07 24.26 28.07" y="178.71" font-size="12.2">0.6</text>
<line x1="39.46" y1="104.13" x2="43.5" y2="104.13" stroke="#000" stroke-width="0.92"/>
<text x="17.14 24.33 28.13" y="109.33" font-size="12.2">0.8</text>
<line x1="39.46" y1="34.75" x2="43.5" y2="34.75" stroke="#000" stroke-width="0.92"/>
<text x="17.05 24.3 28.1" y="39.95" font-size="12.2">1.0</text>
<text x="325.32 334.96 345.57 355.93 359.64 370.13 379.29 384.75 392.73" y="10.6" font-size="14.6">ROC Curve</text>
<text x="309.17 314.88 322.48 325.47 331.61 338.66 341.78 348.86 355.81 362.03 365.51 369.74 373.05 379.68 386.73 390.04 397.71 405.6 409.76" y="433.3" font-size="12.2">False Positive Rate</text>
<text transform="translate(9.6 259.8) rotate(-90)" x="-0.17 5.93 10.35 17.59 24.64 27.76 34.83 41.78 48 51.48 55.72 59.03 65.66 72.71 76.01 83.69 91.58 95.74" y="0" font-size="12.2">True Positive Rate</text>
<rect x="353.2" y="323.2" width="324.1" height="71" rx="2.3" fill="#fff" fill-opacity="0.8" stroke="#cccccc" stroke-opacity="0.8" stroke-width="1.15"/>
<line x1="357.8" y1="333.3" x2="380.9" y2="333.3" stroke="#1f77b4" stroke-width="1.85" stroke-linecap="square"/>
<text x="389.3 397.59 403.81 411.47 419.27 422.59 428.69 433.13 435.78 443.33 450.62 457.67 461.1 465.56 473.38 481.78 489.8 498.63 507.25 512.05 520.57 524.36 531.55 535.36 542.68 549.86 557.6" y="337.55" font-size="12.2">CTAS Triage (AUROC = 0.882)</text>
<line x1="357.8" y1="350" x2="380.9" y2="350" stroke="#ff7f0e" stroke-width="1.85" stroke-linecap="square"/>
<text x="389.32 395.62 402.73 410.1 413.08 419.58 423.82 426.74 433.24 436.54 444.42 451.53 459.2 463.31 470.25 476.25 482.47 485.56 492.75 499.91 503.73 513.11 516.59 520.84 528.01 531.59 538.09 545.75 553.06 560.52 569.93 573.36 577.82 585.64 594.04 602.06 610.88 619.51 624.31 632.83 636.62 643.81 647.61 654.92 662.24 669.86" y="354.25" font-size="12.2">Logistic Regression with LASSO (AUROC = 0.879)</text>
<line x1="357.8" y1="366.7" x2="380.9" y2="366.7" stroke="#2ca02c" stroke-width="1.85" stroke-linecap="square"/>
<text x="389.05 396.72 404.36 411.58 418.83 426.3 437.1 440.19 446.98 454.45 458.55 465.49 471.99 476.11 479.55 484 491.83 500.23 508.24 517.07 525.7 530.49 539.01 542.81 550 553.76 561.13 568.46 576.04" y="370.95" font-size="12.2">Random Forest (AUROC = 0.904)</text>
<line x1="357.8" y1="383.4" x2="380.9" y2="383.4" stroke="#d62728" stroke-width="1.85" stroke-linecap="square"/>
<text x="389.92 397.67 407.43 411.31 418.87 426.23 429.36 436.55 444.11 448.23 451.61 459.79 466.84 473.78 480.29 484.41 487.84 492.3 500.12 508.52 516.54 525.36 533.99 538.78 547.3 551.1 558.29 562.05 569.36 576.73 584.33" y="387.65" font-size="12.2">XGradient Boost (AUROC = 0.917)</text>
<line x1="72.6" y1="468.2" x2="72.6" y2="850" stroke="#b0b0b0" stroke-width="0.92"/>
<line x1="189.04" y1="468.2" x2="189.04" y2="850" stroke="#b0b0b0" stroke-width="0.92"/>
<line x1="305.48" y1="468.2" x2="305.48" y2="850" stroke="#b0b0b0" stroke-width="0.92"/>
<line x1="421.92" y1="468.2" x2="421.92" y2="850" stroke="#b0b0b0" stroke-width="0.92"/>
<line x1="538.36" y1="468.2" x2="538.36" y2="850" stroke="#b0b0b0" stroke-width="0.92"/>
<line x1="654.8" y1="468.2" x2="654.8" y2="850" stroke="#b0b0b0" stroke-width="0.92"/>
<line x1="43.5" y1="787.84" x2="683.6" y2="787.84" stroke="#b0b0b0" stroke-width="0.92"/>
<line x1="43.5" y1="712.28" x2="683.6" y2="712.28" stroke="#b0b0b0" stroke-width="0.92"/>
<line x1="43.5" y1="636.72" x2="683.6" y2="636.72" stroke="#b0b0b0" stroke-width="0.92"/>
<line x1="43.5" y1="561.16" x2="683.6" y2="561.16" stroke="#b0b0b0" stroke-width="0.92"/>
<line x1="43.5" y1="485.6" x2="683.6" y2="485.6" stroke="#b0b0b0" stroke-width="0.92"/>
<polyline points="72.6,485.6 268.68,679.75 572.01,755.12 649.85,809.3 653.64,824.22 654.8,832.42" fill="none" stroke="#1f77b4" stroke-width="1.85" stroke-linecap="square" stroke-linejoin="round"/>
<polyline points="72.6,485.6 72.72,485.6 72.72,486.95 73.03,486.95 73.03,489.02 73.36,489.02 73.36,490.68 73.71,490.68 73.71,492.9 74.12,492.9 74.12,495.16 74.4,495.16 74.4,496.11 74.56,496.11 74.56,496.93 74.64,496.93 74.69,496.93 74.69,499.74 74.77,499.74 74.77,501.16 74.82,501.16 74.82,502.52 74.91,502.52 74.91,505.71 75,505.71 75,507.64 75.09,507.64 75.09,510.44 75.18,510.44 75.18,512.39 75.25,512.39 75.25,513.93 75.28,513.93 75.3,513.93 75.3,515.1 75.37,515.1 75.37,517.42 75.47,517.42 75.47,520.3 75.56,520.3 75.56,522.35 75.65,522.35 75.65,524.93 75.74,524.93 75.74,527.34 75.81,527.34 75.81,528.29 75.88,528.29 75.88,530.91 75.97,530.91 75.97,533.13 76.04,533.13 76.04,534.65 76.08,534.65 76.08,535.52 76.16,535.52 76.16,538.4 76.25,538.4 76.25,540.33 76.33,540.33 76.33,542.86 76.44,542.86 76.44,545.76 76.54,545.76 76.54,548.27 76.6,548.27 76.6,549.07 76.62,549.07 76.72,549.07 76.72,547.34 77,547.34 77,544.63 77.28,544.63 77.28,542.78 77.58,542.78 77.58,539.76 77.95,539.76 77.95,536.87 78.19,536.87 78.19,535.85 78.32,535.85 78.32,534.73 78.47,534.73 78.47,533.42 78.75,533.42 78.75,530.32 79.05,530.32 79.05,528.49 79.31,528.49 79.31,526.2 79.57,526.2 79.57,524.14 79.7,524.14 79.84,524.14 79.84,526.13 80.09,526.13 80.09,527.84 80.32,527.84 80.32,529.47 80.58,529.47 80.58,531.66 80.88,531.66 80.88,533.84 81.27,533.84 81.27,537.36 81.51,537.36 81.69,537.36 81.69,534.95 82.11,534.95 82.11,531.96 82.42,531.96 82.42,530.94 82.5,530.94 82.78,530.94 82.78,534.06 83.27,534.06 83.27,536.44 83.63,536.44 83.63,538.11 83.78,538.11 84.05,538.11 84.05,535.3 84.62,535.3 84.62,532.24 85.05,532.24 85.05,530.94 85.18,530.94 85.25,530.94 85.25,533.1 85.42,533.1 85.42,535.6 85.55,535.6 85.55,536.91 85.7,536.91 85.7,539.7 85.87,539.7 85.87,541.87 86,541.87 86,543.35 86.09,543.35 86.09,544.3 86.22,544.3 86.22,547.14 86.39,547.14 86.39,549.07 86.46,549.07 86.72,549.07 86.72,548.21 87.7,548.21 87.7,545.89 88.6,545.89 88.6,545.29 88.79,545.29 88.88,545.29 88.88,546.44 89.1,546.44 89.1,547.92 89.43,547.92 89.43,550.53 89.88,550.53 89.88,553.39 90.19,553.39 90.19,554.28 90.43,554.28 90.43,556.25 90.59,556.25 90.75,556.25 90.75,555.4 91.34,555.4 91.34,553.03 92.05,553.03 92.05,551.53 92.83,551.53 92.83,548.8 93.76,548.8 93.76,546.43 94.2,546.43 94.88,546.43 94.88,544.94 96.77,544.94 96.77,542.27 97.98,542.27 98.46,542.27 98.46,541.06 99.25,541.06 99.25,540.29 100.25,540.29 100.25,538.53 101.22,538.53 101.22,537.85 101.83,537.85 101.83,536.98 102.18,536.98 102.63,536.98 102.63,538.52 103.65,538.52 103.65,540.47 104.52,540.47 104.52,541.48 105.15,541.48 105.15,542.65 105.49,542.65 106.5,542.65 106.5,540.58 108.04,540.58 108.04,539.46 109.04,539.46 109.04,538.49 109.51,538.49 110.14,538.49 110.14,541.16 111.14,541.16 111.14,542.7 111.91,542.7 111.91,544.43 112.75,544.43 112.75,546.28 113.36,546.28 113.36,546.99 113.53,546.99 115.68,548.69 116.14,548.69 116.14,550.73 117.03,550.73 117.03,552.69 117.93,552.69 117.93,554.78 119.01,554.78 119.01,557.57 119.93,557.57 119.93,558.89 120.22,558.89 120.97,558.89 120.97,557.83 122.75,557.83 122.75,556.36 124.39,556.36 124.39,555.49 125,555.49 125.54,555.49 125.54,556.56 127.21,556.56 127.21,558.76 129.06,558.76 129.06,560.2 130.74,560.2 130.74,562.07 131.69,562.07 131.88,562.07 131.88,562.8 132.48,562.8 132.48,564.4 133.39,564.4 133.39,566.35 134.09,566.35 134.09,567.1 134.5,567.1 134.5,567.96 134.72,567.96 135.76,567.96 135.76,569 137.21,569 137.21,569.43 138.66,569.43 138.66,570.47 140.2,570.47 140.2,570.98 140.72,570.98 141.4,570.98 141.4,572.99 142.56,572.99 142.56,574.35 143.73,574.35 143.73,576.41 145.16,576.41 145.16,578.53 146.13,578.53 146.13,579.23 146.63,579.23 146.63,580.01 147.3,580.01 147.3,581.18 147.7,581.18 148.94,581.18 148.94,583.07 150.73,583.07 150.73,583.92 152.04,583.92 152.04,585.07 153.68,585.07 153.68,586.42 154.92,586.42 154.92,586.96 155.27,586.96 156.06,586.96 156.06,587.51 157.59,587.51 157.59,588.02 159.12,588.02 159.12,588.57 160.97,588.57 160.97,589.3 163.01,589.3 163.01,589.99 164.01,589.99 164.77,589.99 164.77,590.75 166.72,590.75 166.72,591.93 168.29,591.93 168.29,592.32 169.25,592.32 169.25,592.9 169.83,592.9 171.09,592.9 171.09,593.33 173.11,593.33 173.11,593.6 174.53,593.6 174.53,593.82 176.53,593.82 176.53,594.29 178.22,594.29 178.22,594.41 178.56,594.41 179.11,594.41 179.11,594.99 180.49,594.99 180.49,595.84 182.4,595.84 182.4,596.99 183.96,596.99 183.96,597.47 185.12,597.47 185.12,598.2 186.53,598.2 186.53,598.94 188.14,598.94 188.14,599.88 189.04,599.88 189.92,599.88 189.92,600.45 192.16,600.45 192.16,601.32 194.09,601.32 194.09,601.69 195.43,601.69 195.43,602.18 197.32,602.18 197.32,602.9 198.87,602.9 198.87,603.17 199.29,603.17 200.23,603.17 200.23,603.11 201.84,603.11 201.84,603.06 203.05,603.06 203.05,603.02 204.63,603.02 204.63,602.95 206.3,602.95 206.3,602.91 207.5,602.91 207.5,602.87 208.08,602.87 209.28,602.87 209.28,604.34 211.01,604.34 211.01,604.98 212.16,604.98 212.16,605.75 214.01,605.75 214.01,607.25 215.24,607.25 216.41,607.25 216.41,607.06 218.73,607.06 218.73,606.87 219.9,606.87 220.59,606.87 220.59,607.72 221.76,607.72 221.76,608.3 222.88,608.3 222.88,609.08 224.5,609.08 224.5,610.27 225.49,610.27 226.19,610.27 226.19,610.58 227.7,610.58 227.7,610.92 229.38,610.92 229.38,611.3 231.14,611.3 231.14,611.68 233.15,611.68 233.15,612.16 234.28,612.16 235.78,612.16 235.78,612.16 237.87,612.16 237.87,612.16 238.87,612.16 238.87,612.16 240.8,612.16 240.8,612.16 242.67,612.16 242.67,612.16 243.01,612.16 244.57,612.16 244.57,612.7 247.04,612.7 247.04,613.01 249.47,613.01 249.47,613.53 251.39,613.53 251.39,613.67 251.8,613.67 252.39,613.67 252.39,614.29 254.13,614.29 254.13,615.49 256.52,615.49 256.52,616.79 258.83,616.79 258.83,617.9 260.18,617.9 260.18,618.21 260.48,618.21 261.18,618.21 261.18,618.71 262.65,618.71 262.65,619.25 264.04,619.25 264.04,619.7 265.13,619.7 265.13,620.02 266.63,620.02 266.63,620.76 268.5,620.76 268.5,621.34 269.33,621.34 270.62,621.34 270.62,622.27 272.34,622.27 272.34,622.58 274.16,622.58 274.16,623.58 275.96,623.58 275.96,623.87 276.37,623.87 277.87,623.87 277.87,624.21 280.83,624.21 280.83,624.54 283.7,624.54 283.7,624.86 285.1,624.86 286.2,624.86 286.2,624.86 287.7,624.86 287.7,624.86 289.41,624.86 289.41,624.86 291.4,624.86 291.4,624.86 292.09,624.86 292.81,624.86 292.81,625.34 294.67,625.34 294.67,626.09 296.78,626.09 296.78,626.74 298.6,626.74 298.6,627.31 300.14,627.31 300.14,627.77 300.82,627.77 301.91,627.77 301.91,628.43 303.77,628.43 303.77,628.91 305.21,628.91 305.21,629.32 307.25,629.32 307.25,630.16 309.09,630.16 309.09,630.45 309.56,630.45 310.75,630.45 310.75,631.65 312.68,631.65 312.68,632.39 313.99,632.39 313.99,632.96 315.49,632.96 315.49,633.89 317.35,633.89 317.35,634.83 318.29,634.83 318.88,634.83 318.88,635.04 320.81,635.04 320.81,635.52 323.71,635.52 323.71,636.08 325.27,636.08 326.54,636.08 326.54,637.13 328.89,637.13 328.89,638.04 329.99,638.04 330.37,638.04 330.37,638.37 331.8,638.37 331.8,639.3 334.17,639.3 334.17,640.46 335.9,640.46 335.9,640.83 336.99,640.83 336.99,641.41 338.16,641.41 338.16,641.86 338.67,641.86 339.64,641.86 339.64,642.56 341.46,642.56 341.46,643.18 343.22,643.18 343.22,643.84 345.38,643.84 345.38,644.75 347.02,644.75 347.02,645.03 347.4,645.03 347.83,645.03 347.83,645.4 348.76,645.4 348.76,645.84 349.77,645.84 349.77,646.28 350.72,646.28 350.72,646.66 352.6,646.66 352.6,647.91 355.09,647.91 355.09,648.81 356.13,648.81 356.61,648.81 356.61,649.1 358.05,649.1 358.05,649.68 359.76,649.68 359.76,650.13 361.25,650.13 361.25,650.58 362.78,650.58 362.78,651.06 364.22,651.06 364.22,651.45 364.86,651.45 365.84,651.45 365.84,652.47 367.56,652.47 367.56,653.24 368.86,653.24 368.86,653.82 370.12,653.82 370.12,654.55 371.32,654.55 371.32,655.06 372.7,655.06 372.7,655.99 373.6,655.99 374.59,655.99 374.59,657.52 376.27,657.52 376.27,658.57 377.34,658.57 377.34,659.18 378.22,659.18 378.22,659.92 379.38,659.92 379.38,660.96 380.94,660.96 380.94,662.33 382.23,662.33 382.23,662.94 382.62,662.94 383.38,662.94 383.38,663.73 385.35,663.73 385.35,664.98 387.58,664.98 387.58,666.04 389.41,666.04 389.41,666.89 390.64,666.89 390.64,667.32 391.06,667.32 391.99,667.32 391.99,668.02 394.09,668.02 394.09,668.9 396.1,668.9 396.1,669.54 398.1,669.54 398.1,670.41 399.67,670.41 399.67,670.72 400.09,670.72 400.68,670.72 400.68,671.44 402.17,671.44 402.17,672.52 404.11,672.52 404.11,673.8 405.59,673.8 405.59,674.3 406.78,674.3 406.78,675.25 408.19,675.25 408.19,676.01 408.82,676.01 410.11,676.01 410.11,677.35 412.76,677.35 412.76,678.76 414.86,678.76 414.86,679.54 416.58,679.54 416.58,680.54 417.55,680.54 418.65,680.54 418.65,682.13 420.32,682.13 420.32,682.97 421.67,682.97 421.67,684.09 422.89,684.09 422.89,684.73 423.97,684.73 423.97,685.65 424.6,685.65 425.34,685.65 425.34,687.52 426.98,687.52 426.98,689.83 428.72,689.83 428.72,691.95 430.3,691.95 430.3,693.84 431.31,693.84 431.31,694.52 431.58,694.52 432.43,694.52 432.43,695.85 433.69,695.85 433.69,696.5 434.97,696.5 434.97,697.87 436.16,697.87 436.16,698.37 436.93,698.37 436.93,699.08 438.42,699.08 438.42,700.72 439.92,700.72 439.92,701.44 440.38,701.44 440.85,701.44 440.85,701.8 441.81,701.8 441.81,702.18 443.64,702.18 443.64,703.21 444.98,703.21 445.41,703.21 445.41,704.07 446.16,704.07 446.16,704.67 447.47,704.67 447.47,706.65 448.87,706.65 448.87,707.41 450.26,707.41 450.26,709.39 451.65,709.39 451.65,710.13 452.02,710.13 452.86,710.13 452.86,712.37 454.63,712.37 454.63,714.84 456.21,714.84 456.21,716.59 457.09,716.59 457.09,717.19 457.32,717.19 457.7,717.19 457.7,717.65 459.2,717.65 459.2,719.03 461.2,719.03 461.2,720.08 463.14,720.08 463.14,721.39 464.66,721.39 464.66,721.94 465.55,721.94 465.55,722.48 465.99,722.48 467.25,722.48 467.25,724.19 468.9,724.19 468.9,724.72 469.95,724.72 469.95,725.61 471.49,725.61 471.49,726.82 473.64,726.82 473.64,728.53 474.9,728.53 475.52,728.53 475.52,729.15 476.68,729.15 476.68,729.7 477.86,729.7 477.86,730.33 479.5,730.33 479.5,731.35 481.2,731.35 481.2,732.04 481.89,732.04 482.46,732.04 482.46,733.35 483.59,733.35 483.59,734.61 484.72,734.61 484.72,735.93 485.84,735.93 485.84,737.16 486.98,737.16 486.98,738.52 487.9,738.52 487.9,739.27 488.52,739.27 488.52,739.93 488.81,739.93 490.03,739.93 490.03,741.91 491.95,741.91 491.95,743.03 493.66,743.03 493.66,744.66 495.13,744.66 495.13,745.41 496.6,745.41 496.6,747.04 497.61,747.04 498.73,747.04 498.73,748.36 500.91,748.36 500.91,749.58 502.83,749.58 502.83,750.6 504.56,750.6 504.56,751.59 505.87,751.59 505.87,752.14 506.34,752.14 507.22,752.14 507.22,754.5 508.46,754.5 508.46,755.43 509.11,755.43 509.11,756.25 510.2,756.25 510.2,758.33 511.28,758.33 511.28,759.13 511.58,759.13 512.53,759.13 512.53,759.89 514.34,759.89 514.34,760.58 516.37,760.58 516.37,761.53 518.12,761.53 518.12,761.99 519.51,761.99 519.51,762.64 520.31,762.64 520.83,762.64 520.83,763.38 522.25,763.38 522.25,764.66 523.79,764.66 523.79,765.56 524.98,765.56 524.98,766.34 526.53,766.34 526.53,767.76 528.29,767.76 528.29,768.84 529.04,768.84 529.72,768.84 529.72,769.5 531.52,769.5 531.52,770.59 533.45,770.59 533.45,771.38 535.53,771.38 535.53,772.63 537.29,772.63 537.29,773.11 537.78,773.11 538.4,773.11 538.4,773.84 539.59,773.84 539.59,774.5 540.53,774.5 540.53,774.94 541.74,774.94 541.74,775.93 543.32,775.93 543.32,776.8 544.59,776.8 544.59,777.41 545.83,777.41 545.83,778.25 547.22,778.25 547.22,779.05 548.95,779.05 548.95,780.28 550,780.28 550.53,780.28 550.53,780.73 552.52,780.73 552.52,781.98 554.88,781.98 554.88,782.74 556.81,782.74 556.81,783.61 558.9,783.61 558.9,784.52 559.96,784.52 561.31,784.52 561.31,785.27 563.99,785.27 563.99,786.03 566.35,786.03 566.35,786.6 568.5,786.6 568.5,787.24 569.62,787.24 570.82,787.24 570.82,788.04 573.38,788.04 573.38,788.94 575.57,788.94 575.57,789.5 577.76,789.5 577.76,790.41 579.11,790.41 580.59,790.41 580.59,791.38 582.98,791.38 582.98,791.98 584.53,791.98 584.53,792.4 585.82,792.4 585.82,792.82 587.68,792.82 587.68,793.62 588.89,793.62 590.05,793.62 590.05,794.32 592.7,794.32 592.7,795.22 595.53,795.22 595.53,796.04 596.87,796.04 597.49,796.04 597.49,796.65 598.67,796.65 598.67,797.2 599.88,797.2 599.88,797.82 601.07,797.82 601.07,798.37 602.75,798.37 602.75,799.47 604.42,799.47 604.42,800.01 604.96,800.01 606.24,800.01 606.24,801.51 608.12,801.51 608.12,802.23 609.97,802.23 609.97,803.69 611.87,803.69 611.87,804.48 613.32,804.48 613.32,805.4 614.37,805.4 614.37,805.71 614.63,805.71 615.08,805.71 615.08,806.16 615.99,806.16 615.99,806.62 617.7,806.62 617.7,807.87 619.62,807.87 619.62,808.54 621.03,808.54 621.03,809.28 623,809.28 623,810.51 624.23,810.51 625.32,810.51 625.32,811.58 626.77,811.58 626.77,811.94 627.85,811.94 627.85,812.66 629.4,812.66 629.4,813.47 631.28,813.47 631.28,814.51 632.33,814.51 632.88,814.51 632.88,815.19 634.39,815.19 634.39,816.33 636.65,816.33 636.65,817.93 638.72,817.93 638.72,818.83 639.85,818.83 639.85,819.31 640.25,819.31 640.71,819.31 640.71,819.87 641.8,819.87 641.8,820.62 643.46,820.62 643.46,821.84 644.95,821.84 644.95,822.39 646.84,822.39 646.84,824.11 648.28,824.11 649.42,824.11 649.42,826.02 650.96,826.02 650.96,826.69 652.2,826.69 652.2,828.11 653.05,828.11 653.37,828.11 653.37,829.69 654.25,829.69 654.25,832.42 654.8,832.42" fill="none" stroke="#ff7f0e" stroke-width="1.85" stroke-linecap="square" stroke-linejoin="round"/>
<polyline points="72.6,485.6 73.76,485.6 73.76,485.6 73.76,486.97 73.76,486.97 73.76,488.01 73.76,488.01 73.76,489.76 73.76,489.76 73.76,490.94 73.76,490.94 73.76,491.9 73.76,491.9 73.76,493.66 73.76,493.66 73.76,496.66 73.76,496.66 73.76,499.38 73.76,499.38 73.76,502.02 73.76,502.02 73.76,503.35 73.76,503.35 73.76,505.44 73.76,505.44 73.76,506.91 73.76,506.91 73.76,508.12 73.76,508.12 73.76,509.17 73.76,509.17 73.76,510.49 73.76,510.49 73.76,513.52 73.76,513.52 73.76,516.3 73.76,516.3 73.76,519.04 73.76,519.04 73.76,521.76 73.76,521.76 73.76,523.03 73.76,523.03 73.76,524.57 73.76,524.57 73.76,526.87 73.76,526.87 73.76,529.43 73.76,529.43 73.76,532.28 73.76,532.28 73.76,535.19 73.76,535.19 73.76,536.2 73.76,536.2 73.76,538.46 73.76,538.46 73.76,540.87 73.76,540.87 73.76,542.88 73.76,542.88 73.76,544.11 73.76,544.11 73.76,546.05 73.76,546.05 73.76,547.06 73.76,547.06 73.76,550.1 73.76,550.1 73.76,552.98 73.76,552.98 73.76,555.09 73.76,555.09 73.76,556.62 73.76,556.62 73.76,559.6 73.76,559.6 73.76,561.77 73.76,561.77 73.76,564.69 73.76,564.69 73.76,567.52 73.76,567.52 73.76,569.54 73.76,569.54 73.76,571.34 73.76,571.34 73.76,573.57 73.76,573.57 73.76,575.41 73.76,575.41 73.76,576.6 73.76,576.6 73.76,578.13 73.76,578.13 73.76,580.88 73.76,580.88 73.76,581.78 73.76,581.78 73.76,582.69 73.76,582.69 73.76,585 73.76,585 73.76,586.47 73.76,586.47 73.76,588.55 73.76,588.55 73.76,590.48 73.76,590.48 73.76,592.11 73.76,592.11 73.76,594.18 73.76,594.18 73.77,594.18 73.77,592.91 73.79,592.91 73.79,591.12 73.82,591.12 73.82,589.83 73.84,589.83 73.84,587.52 73.87,587.52 73.87,586.05 73.89,586.05 73.89,584.4 73.92,584.4 73.92,581.81 73.95,581.81 73.95,580.24 73.98,580.24 73.98,578.1 74.01,578.1 74.01,575.13 74.04,575.13 74.04,574.08 74.05,574.08 74.05,573.14 74.07,573.14 74.07,571.79 74.1,571.79 74.1,569.15 74.13,569.15 74.13,566.87 74.16,566.87 74.16,565.5 74.18,565.5 74.18,563.91 74.2,563.91 74.2,562.68 74.22,562.68 74.22,561.16 74.23,561.16 74.25,561.16 74.25,560.26 74.3,560.26 74.3,557.79 74.4,557.79 74.4,554.84 74.5,554.84 74.5,551.75 74.6,551.75 74.6,549.19 74.7,549.19 74.7,546.08 74.77,546.08 74.77,545.24 74.81,545.24 74.81,543.75 74.89,543.75 74.89,540.63 74.99,540.63 74.99,537.97 75.07,537.97 75.07,536.19 75.16,536.19 75.16,532.83 75.22,532.83 75.34,532.83 75.34,530.55 75.6,530.55 75.6,527.8 75.81,527.8 75.81,526.3 75.95,526.3 75.95,525.05 76.11,525.05 76.11,523.19 76.27,523.19 76.27,522.07 76.41,522.07 76.41,520.36 76.5,520.36 76.82,520.36 76.82,517.32 77.31,517.32 77.31,515.76 77.57,515.76 77.57,514.95 77.75,514.95 77.75,514.06 78.01,514.06 78.01,512.42 78.19,512.42 78.57,512.42 78.57,509.86 79.2,509.86 79.2,508.25 79.65,508.25 79.65,506.82 79.99,506.82 79.99,506 80.11,506 80.74,506 80.74,503.11 81.73,503.11 81.73,501.47 82.09,501.47 82.5,501.47 82.5,500.46 83.21,500.46 83.21,499.74 83.97,499.74 83.97,498.63 84.42,498.63 84.48,498.63 84.48,499.83 84.66,499.83 84.66,502.25 84.84,502.25 84.84,503.4 84.95,503.4 84.95,504.49 85,504.49 85.48,504.49 85.48,502.76 86.3,502.76 86.3,501.54 86.93,501.54 86.93,500.52 87.21,500.52 88.32,501.96 88.6,501.96 88.6,501.02 89.41,501.02 89.41,499.24 90.12,499.24 90.12,498.63 90.3,498.63 90.52,498.63 90.52,500.36 90.96,500.36 90.96,502.03 91.17,502.03 91.99,502.03 91.99,500.99 93.4,500.99 93.4,500.25 94.73,500.25 94.73,499.28 95.86,499.28 95.86,498.81 97.11,498.81 97.11,497.69 97.98,497.69 98.64,497.69 98.64,497.22 100.74,497.22 100.74,496.18 102.18,496.18 102.55,496.18 102.55,498.87 103.2,498.87 103.2,500.79 103.58,500.79 103.58,501.64 103.89,501.64 103.89,502.99 104.27,502.99 104.27,504.33 104.63,504.33 104.63,505.58 104.92,505.58 104.92,506.38 105.03,506.38 106.72,507.89 108.1,507.89 108.1,507.05 109.96,507.05 109.96,506.76 110.44,506.76 110.89,506.76 110.89,506.54 112.96,506.54 112.96,505.77 114.58,505.77 115.05,505.77 115.05,507.71 115.9,507.71 115.9,509.21 116.26,509.21 117.08,509.21 117.08,509.91 119.06,509.91 119.06,510.91 120.22,510.91 121.33,510.91 121.33,511.78 123.68,511.78 123.68,512.77 125.46,512.77 125.46,513.18 125.99,513.18 126.96,513.18 126.96,513.6 128.43,513.6 128.43,513.82 129.57,513.82 129.57,514.09 131.62,514.09 131.62,514.7 133.88,514.7 133.88,515.07 134.72,515.07 136.17,515.07 136.17,515.94 138.38,515.94 138.38,516.4 140.29,516.4 140.29,517.08 142.73,517.08 142.73,517.86 144.41,517.86 144.41,518.09 144.79,518.09 146.13,518.09 146.13,518.76 148.47,518.76 148.47,519.27 150.62,519.27 150.62,519.84 152.79,519.84 152.79,520.36 153.82,520.36 154.53,520.36 154.53,520.14 157,520.14 157,519.6 158.77,519.6 159.97,519.6 159.97,521.56 161.54,521.56 161.54,522.18 162.96,522.18 162.96,523.87 164.01,523.87 165.5,523.87 165.5,524.7 168.16,524.7 168.16,525.35 169.75,525.35 169.75,525.59 171.62,525.59 171.62,526.38 173.57,526.38 173.57,526.68 175.61,526.68 175.61,527.51 177.84,527.51 177.84,527.91 178.56,527.91 178.97,527.91 178.97,528.39 179.9,528.39 179.9,528.99 181.43,528.99 181.43,530.15 183.37,530.15 183.37,531.23 185.43,531.23 185.43,532.52 187.8,532.52 187.8,533.96 189.04,533.96 189.69,533.96 189.69,533.67 190.73,533.67 190.73,533.5 192.59,533.5 192.59,532.85 194.46,532.85 194.46,532.67 194.86,532.67 195.94,532.67 195.94,534.61 197.43,534.61 197.43,535.33 198.85,535.33 198.85,537.16 201.03,537.16 201.03,539.25 202.2,539.25 203.61,539.25 203.61,539.97 206.04,539.97 206.04,540.5 208.48,540.5 208.48,541.23 210.44,541.23 210.44,541.51 210.99,541.51 212.12,541.51 212.12,542.36 214.13,542.36 214.13,543.03 215.01,543.03 216.45,543.03 216.45,543.52 219.21,543.52 219.21,543.97 221.47,543.97 221.47,544.3 223.11,544.3 223.11,544.54 223.8,544.54 224.22,544.54 224.22,544.41 225.09,544.41 225.09,544.28 226.63,544.28 226.63,543.96 228.35,543.96 228.35,543.78 228.98,543.78 230.23,543.78 230.23,545.19 232.47,545.19 232.47,546.3 233.95,546.3 233.95,546.86 235.23,546.86 235.23,547.75 236.02,547.75 237.33,547.75 237.33,548.14 239.65,548.14 239.65,548.45 241.08,548.45 241.08,548.57 243.15,548.57 243.15,549.07 244.81,549.07 246.17,549.07 246.17,549.75 248,549.75 248,550 249.51,550 249.51,550.51 251.36,550.51 251.36,550.93 253.74,550.93 253.74,551.71 255.29,551.71 255.88,551.71 255.88,552.73 256.98,552.73 256.98,553.62 258.24,553.62 258.24,554.91 260.16,554.91 260.16,556.95 261.81,556.95 261.81,557.76 262.28,557.76 262.76,557.76 262.76,558.23 264.27,558.23 264.27,559.24 266.62,559.24 266.62,560.53 268.84,560.53 268.84,561.42 270.58,561.42 270.58,562.23 272.69,562.23 272.69,563.49 274.3,563.49 274.3,563.8 274.62,563.8 275.1,563.8 275.1,563.94 277.02,563.94 277.02,564.36 279.09,564.36 279.09,564.54 280.47,564.54 280.47,564.76 282.62,564.76 282.62,565.16 284.55,565.16 284.55,565.32 285.1,565.32 286.43,565.32 286.43,565.89 288.34,565.89 288.34,566.14 290.35,566.14 290.35,566.76 292.36,566.76 292.36,567.02 293.4,567.02 293.4,567.2 293.84,567.2 294.72,567.2 294.72,568.12 296.31,568.12 296.31,568.86 297.96,568.86 297.96,569.83 300.21,569.83 300.21,571.2 302.05,571.2 302.05,571.74 302.57,571.74 302.91,571.74 302.91,572.19 303.88,572.19 303.88,573.06 305.4,573.06 305.4,574.24 307.09,574.24 307.09,575.34 308.73,575.34 308.73,576.46 309.56,576.46 310.18,576.46 310.18,577.98 311.11,577.98 311.11,578.74 311.87,578.74 311.87,579.81 313.21,579.81 313.21,582 314.63,582 314.63,583.28 315.85,583.28 315.85,584.96 316.54,584.96 317.9,584.96 317.9,586.6 320.24,586.6 320.24,587.8 322.26,587.8 322.26,589.05 324.28,589.05 324.28,590.25 325.27,590.25 326,590.25 326,590.78 328.36,590.78 328.36,591.95 329.99,591.95 330.81,591.95 330.81,592.96 332.9,592.96 332.9,594.52 334.83,594.52 334.83,595.32 336.71,595.32 336.71,596.83 338.3,596.83 338.3,597.28 338.67,597.28 339.68,597.28 339.68,598.28 341.54,598.28 341.54,599.11 342.88,599.11 342.88,599.61 344.58,599.61 344.58,600.78 346.58,600.78 346.58,601.58 347.4,601.58 348.28,601.58 348.28,603.19 349.58,603.19 349.58,603.94 350.36,603.94 350.36,604.62 351.16,604.62 351.16,605.39 352.6,605.39 352.6,607.23 354.07,607.23 354.07,608.05 355.33,608.05 355.33,609.52 356.13,609.52 356.79,609.52 356.79,610.57 358.31,610.57 358.31,611.93 359.81,611.93 359.81,612.95 361.34,612.95 361.34,614.38 362.64,614.38 362.64,615.02 363.95,615.02 363.95,616.47 364.86,616.47 365.99,616.47 365.99,618.51 367.58,618.51 367.58,619.34 368.92,619.34 368.92,620.93 370.38,620.93 370.38,621.99 371.54,621.99 371.54,623.01 372.42,623.01 372.42,623.59 373.17,623.59 373.17,624.37 373.6,624.37 374.93,624.37 374.93,625.92 377.46,625.92 377.46,627.33 379.84,627.33 379.84,628.71 381.82,628.71 381.82,629.66 382.62,629.66 383.91,629.66 383.91,631.35 385.69,631.35 385.69,632 387.11,632 387.11,633.21 388.86,633.21 388.86,634.3 390.38,634.3 390.38,635.21 391.06,635.21 392.07,635.21 392.07,637.49 393.95,637.49 393.95,639.46 395.86,639.46 395.86,641.8 397.25,641.8 397.25,642.61 398.39,642.61 398.39,644.38 399.63,644.38 399.63,645.41 400.09,645.41 401.05,645.41 401.05,647.15 402.85,647.15 402.85,648.69 404.73,648.69 404.73,650.56 406.33,650.56 406.33,651.59 407.86,651.59 407.86,653.34 408.82,653.34 409.5,653.34 409.5,654.48 411.05,654.48 411.05,655.9 413.05,655.9 413.05,657.79 415.14,657.79 415.14,659.38 416.69,659.38 416.69,660.36 417.81,660.36 417.81,661.23 418.81,661.23 418.81,662.03 419.3,662.03 420.37,662.03 420.37,662.89 422.92,662.89 422.92,664.07 425.78,664.07 425.78,665.17 427.62,665.17 427.62,665.55 428.09,665.55 428.84,665.55 428.84,666.49 430.75,666.49 430.75,667.96 432.54,667.96 432.54,668.76 434.12,668.76 434.12,669.97 435.08,669.97 435.48,669.97 435.48,670.21 436.47,670.21 436.47,670.56 438.07,670.56 438.07,671.17 440.25,671.17 440.25,671.88 442.65,671.88 442.65,672.61 443.87,672.61 444.56,672.61 444.56,673.56 446.52,673.56 446.52,675.29 448.74,675.29 448.74,676.59 450.18,676.59 450.18,677.25 451.06,677.25 451.06,677.79 452.64,677.79 452.64,679.41 453.82,679.41 455.18,679.41 455.18,681.06 457.82,681.06 457.82,682.63 460.06,682.63 460.06,683.8 461.76,683.8 461.76,684.7 462.5,684.7 462.97,684.7 462.97,685.08 464.1,685.08 464.1,685.61 465.38,685.61 465.38,686.11 467.4,686.11 467.4,687.25 470.05,687.25 470.05,688.25 471.29,688.25 472.48,688.25 472.48,689.45 474.19,689.45 474.19,689.97 475.32,689.97 475.32,690.58 476.61,690.58 476.61,691.26 478.66,691.26 478.66,692.63 480.02,692.63 480.45,692.63 480.45,693.47 481.83,693.47 481.83,695.37 483.65,695.37 483.65,697.08 485.27,697.08 485.27,698.56 487.13,698.56 487.13,700.75 488.52,700.75 488.52,701.32 488.81,701.32 489.54,701.32 489.54,702.78 490.69,702.78 490.69,703.61 491.47,703.61 491.47,704.34 492.14,704.34 492.14,704.96 493,704.96 493,706.07 493.94,706.07 493.94,706.84 494.66,706.84 494.66,707.51 496.3,707.51 496.3,710.13 497.61,710.13 498.22,710.13 498.22,710.98 500.03,710.98 500.03,712.67 502.25,712.67 502.25,714.1 504.32,714.1 504.32,715.56 505.85,715.56 505.85,716.25 506.34,716.25 507.43,716.25 507.43,718.44 509.54,718.44 509.54,720.5 511.45,720.5 511.45,722.3 513.1,722.3 513.1,723.82 514.46,723.82 514.46,725.05 515.07,725.05 515.82,725.05 515.82,727.1 517.19,727.1 517.19,728.82 518.41,728.82 518.41,730.44 519.34,730.44 519.34,731.39 520.52,731.39 520.52,733.67 521.7,733.67 521.7,734.65 522.06,734.65 522.42,734.65 522.42,735.29 523.22,735.29 523.22,736.09 524.75,736.09 524.75,738.03 526.35,738.03 526.35,738.98 527.52,738.98 527.52,740.14 529.07,740.14 529.07,741.77 530.39,741.77 530.39,742.5 530.79,742.5 531.5,742.5 531.5,743.24 532.97,743.24 532.97,744.03 534.54,744.03 534.54,744.87 535.73,744.87 535.73,745.27 537.4,745.27 537.4,746.61 539.11,746.61 539.11,747.04 539.52,747.04 540.87,747.04 540.87,748.59 542.72,748.59 542.72,749.17 543.73,749.17 543.73,749.76 545.47,749.76 545.47,751.18 547.9,751.18 547.9,752.56 549.55,752.56 549.55,753.08 550,753.08 550.76,753.08 550.76,754.58 552.2,754.58 552.2,755.95 553.79,755.95 553.79,757.74 555.12,757.74 555.12,758.61 556.28,758.61 556.28,760.03 556.99,760.03 558.26,760.03 558.26,761.96 560.53,761.96 560.53,763.47 562.72,763.47 562.72,765.28 564.47,765.28 564.47,766.12 565.02,766.12 565.66,766.12 565.66,767.26 567.36,767.26 567.36,769.15 569.46,769.15 569.46,771.01 571.32,771.01 571.32,772.49 572.54,772.49 572.54,773.19 573.78,773.19 573.78,774.72 575.36,774.72 575.36,776.01 576.09,776.01 576.72,776.01 576.72,776.89 578.31,776.89 578.31,778.23 580.49,778.23 580.49,779.92 582.62,779.92 582.62,781.2 583.83,781.2 583.83,781.61 584.12,781.61 585.16,781.61 585.16,782.65 586.82,782.65 586.82,783.28 588.73,783.28 588.73,784.56 591.05,784.56 591.05,785.61 592.1,785.61 592.79,785.61 592.79,786.29 594.8,786.29 594.8,787.6 597.15,787.6 597.15,788.61 598.91,788.61 598.91,789.33 600.73,789.33 600.73,790.41 601.82,790.41 603.13,790.41 603.13,791.72 605.77,791.72 605.77,793.04 608.39,793.04 608.39,794.34 610.56,794.34 610.56,795.21 611.43,795.21 612.49,795.21 612.49,796.46 614.53,796.46 614.53,797.6 616.4,797.6 616.4,798.64 618.65,798.64 618.65,800.24 620.53,800.24 620.53,800.84 621.03,800.84 621.42,800.84 621.42,801.45 622.8,801.45 622.8,803.02 624.56,803.02 624.56,804.25 626.17,804.25 626.17,805.57 628.09,805.57 628.09,807.3 629.18,807.3 629.75,807.3 629.75,808.11 630.85,808.11 630.85,808.85 631.76,808.85 631.76,809.41 633.25,809.41 633.25,810.96 635.72,810.96 635.72,812.93 637.1,812.93 638.12,812.93 638.12,814.34 639.57,814.34 639.57,814.96 641.31,814.96 641.31,816.75 643.87,816.75 643.87,818.52 645.14,818.52 645.85,818.52 645.85,819.95 646.84,819.95 646.84,820.52 648.12,820.52 648.12,822.52 649.93,822.52 649.93,824.15 651.11,824.15 651.11,824.9 651.48,824.9 651.74,824.9 651.74,825.57 652.77,825.57 652.77,827.61 653.73,827.61 653.73,828.11 653.93,828.11 654.12,828.11 654.12,830.02 654.43,830.02 654.43,831.15 654.67,831.15 654.67,832.42 654.8,832.42" fill="none" stroke="#2ca02c" stroke-width="1.85" stroke-linecap="square" stroke-linejoin="round"/>
<polyline points="72.6,485.6 74.81,485.6 74.81,485.6 74.81,487.89 74.81,487.89 74.81,490.48 74.81,490.48 74.81,493.18 74.81,493.18 74.81,496.25 74.81,496.25 74.81,498.82 74.81,498.82 74.81,501.83 74.81,501.83 74.81,502.7 74.81,502.7 74.81,504.62 74.81,504.62 74.81,507.69 74.81,507.69 74.81,510.04 74.81,510.04 74.81,513.01 74.81,513.01 74.81,514.08 74.81,514.08 74.81,516 74.81,516 74.81,517.4 74.81,517.4 74.81,519.5 74.81,519.5 74.81,521.68 74.81,521.68 74.81,522.51 74.81,522.51 74.81,523.83 74.81,523.83 74.81,525.3 74.81,525.3 74.81,528.3 74.81,528.3 74.81,530.94 74.81,530.94 74.81,532.12 74.81,532.12 74.81,534.83 74.81,534.83 74.81,535.97 74.81,535.97 74.81,538.25 74.81,538.25 74.81,539.35 74.81,539.35 74.81,540.16 74.81,540.16 74.81,543.05 74.81,543.05 74.81,544.35 74.81,544.35 74.81,545.67 74.81,545.67 74.81,548.69 74.81,548.69 74.85,548.69 74.85,545.8 74.9,545.8 74.9,544.31 74.95,544.31 74.95,541.2 75.01,541.2 75.01,539.11 75.04,539.11 75.04,538.49 75.05,538.49 75.08,538.49 75.08,537.2 75.18,537.2 75.18,534.15 75.32,534.15 75.32,531.69 75.45,531.69 75.45,529.05 75.51,529.05 75.66,529.05 75.66,526.12 75.89,526.12 75.89,524.61 76.05,524.61 76.05,522.95 76.2,522.95 76.2,521.76 76.32,521.76 76.32,520.61 76.44,520.61 76.44,519.41 76.5,519.41 76.66,519.41 76.66,517.92 77.05,517.92 77.05,515.72 77.37,515.72 77.37,514.93 77.71,514.93 77.71,512.56 78.07,512.56 78.07,511.48 78.19,511.48 78.4,511.48 78.4,510 79.01,510 79.01,507.34 79.66,507.34 79.66,505.47 80.02,505.47 80.02,504.87 80.11,504.87 80.53,504.87 80.53,503.1 81.52,503.1 81.52,500.71 82.09,500.71 83.49,498.97 83.5,498.97 83.5,499.91 83.57,499.91 83.57,503.05 83.64,503.05 83.64,503.9 83.69,503.9 83.69,506.5 83.78,506.5 83.78,509.33 83.84,509.33 83.84,510.17 83.9,510.17 83.9,512.86 83.97,512.86 83.97,514.54 84.03,514.54 84.03,516.72 84.08,516.72 84.08,517.55 84.11,517.55 84.11,518.47 84.13,518.47 84.35,518.47 84.35,517.31 85.11,517.31 85.11,514.42 85.88,514.42 85.88,513.23 86.57,513.23 86.57,510.79 87.15,510.79 87.15,510.16 87.27,510.16 87.74,510.16 87.74,513.56 88.2,513.56 88.46,513.56 88.46,512.01 88.97,512.01 88.97,510.44 89.55,510.44 89.55,508.49 89.97,508.49 89.97,507.89 90.07,507.89 90.26,507.89 90.26,508.88 90.91,508.88 90.91,511.3 91.6,511.3 91.6,512.42 91.81,512.42 92.41,512.42 92.41,509.82 93.29,509.82 93.29,508.65 93.56,508.65 94.5,508.65 94.5,511.08 95.66,511.08 95.66,511.67 95.89,511.67 96.35,511.67 96.35,510.33 97.51,510.33 97.51,508.27 98.22,508.27 99.13,508.27 99.13,510.65 100.3,510.65 100.3,511.29 100.55,511.29 101.71,511.29 101.71,508.65 102.87,508.65 103.63,508.65 103.63,510.12 104.79,510.12 104.79,510.91 105.2,510.91 107.53,509.02 108.15,509.02 108.15,509.98 109.25,509.98 109.25,510.74 110.09,510.74 110.09,511.29 110.44,511.29 110.96,511.29 110.96,510.76 112.41,510.76 112.41,509.78 113.35,509.78 114.81,509.78 114.81,512.05 116.26,512.05 116.85,512.05 116.85,511.81 117.88,511.81 117.88,511.63 119.16,511.63 119.16,511.29 119.99,511.29 120.91,511.29 120.91,512.26 122.62,512.26 122.62,513.09 124.2,513.09 124.2,513.93 125,513.93 126.11,513.93 126.11,513.81 128.61,513.81 128.61,513.65 130.85,513.65 130.85,513.56 131.69,513.56 132.43,513.56 132.43,514.62 133.54,514.62 133.54,515.16 135.14,515.16 135.14,516.91 136.71,516.91 136.71,517.42 137.88,517.42 137.88,518.58 139.82,518.58 139.82,520.23 141.42,520.23 141.42,520.89 141.88,520.89 142.99,520.89 142.99,522.17 145.43,522.17 145.43,523.71 147.76,523.71 147.76,524.87 149.11,524.87 149.11,525.27 149.45,525.27 149.97,525.27 149.97,525.48 151.39,525.48 151.39,525.86 152.86,525.86 152.86,526.09 155.08,526.09 155.08,526.78 156.73,526.78 157.47,526.78 157.47,526.47 159.13,526.47 159.13,526.09 161.62,526.09 161.62,525.44 163.59,525.44 163.59,525.27 164.01,525.27 165.46,525.27 165.46,526.43 167.8,526.43 167.8,527.13 169.59,527.13 169.59,527.87 171.04,527.87 171.04,528.29 171.57,528.29 172.52,528.29 172.52,528.75 174.2,528.75 174.2,529.11 175.78,529.11 175.78,529.52 177.2,529.52 177.2,529.8 178.16,529.8 178.16,529.99 178.56,529.99 180.12,529.99 180.12,529.45 183.21,529.45 183.21,528.91 185.44,528.91 185.44,528.67 186.13,528.67 187.13,528.67 187.13,528.67 188.93,528.67 188.93,528.67 190.25,528.67 190.25,528.67 191.48,528.67 191.48,528.67 193.53,528.67 193.53,528.67 194.86,528.67 195.89,528.67 195.89,530.68 197.52,530.68 197.52,531.84 198.7,531.84 198.7,532.98 199.29,532.98 200.53,532.98 200.53,533.94 202.92,533.94 202.92,534.83 205.18,534.83 205.18,535.69 207.19,535.69 207.19,536.38 208.08,536.38 208.88,536.38 208.88,536.86 210.87,536.86 210.87,537.59 212.76,537.59 212.76,538.02 214.24,538.02 214.24,538.49 215.01,538.49 216.24,538.49 216.24,539.43 218.63,539.43 218.63,540.3 220.48,540.3 220.48,540.83 221.59,540.83 221.59,541.14 221.99,541.14 223.17,541.14 223.17,541.14 225.45,541.14 225.45,541.14 226.92,541.14 226.92,541.14 227.29,541.14 228.21,541.14 228.21,542.17 229.74,542.17 229.74,542.86 231.4,542.86 231.4,544.04 233.29,544.04 233.29,544.98 235.07,544.98 235.07,546.05 236.02,546.05 237.14,546.05 237.14,546.77 239.55,546.77 239.55,547.61 241.62,547.61 241.62,548.12 243.52,548.12 243.52,548.84 245.57,548.84 245.57,549.45 246.5,549.45 247.59,549.45 247.59,551.2 249.3,551.2 249.3,552.24 251.04,552.24 251.04,554.02 252.81,554.02 252.81,555.12 253.49,555.12 254.48,555.12 254.48,556.56 256.74,556.56 256.74,558.42 259.26,558.42 259.26,560.24 261.39,560.24 261.39,561.54 262.28,561.54 263.31,561.54 263.31,561.43 264.95,561.43 264.95,561.36 266.95,561.36 266.95,561.21 268.84,561.21 268.84,561.16 269.33,561.16 270.24,561.16 270.24,561.84 272.3,561.84 272.3,562.71 274.91,562.71 274.91,563.8 276.37,563.8 277.52,563.8 277.52,564.92 279.21,564.92 279.21,565.45 280.96,565.45 280.96,566.62 282.76,566.62 282.76,567.2 283.36,567.2 284.55,567.2 284.55,566.95 286.64,566.95 286.64,566.75 288.94,566.75 288.94,566.45 290.34,566.45 291.46,566.45 291.46,567.9 293.55,567.9 293.55,569.16 295.59,569.16 295.59,570.54 296.99,570.54 296.99,570.98 297.33,570.98 297.92,570.98 297.92,571.09 299.43,571.09 299.43,571.26 301.53,571.26 301.53,571.48 303.37,571.48 303.37,571.6 304.75,571.6 304.75,571.74 305.48,571.74 306.6,571.74 306.6,572.29 308.17,572.29 308.17,572.5 309.54,572.5 309.54,572.96 311.13,572.96 311.13,573.27 312.24,573.27 312.24,573.49 313.23,573.49 313.23,573.76 314.29,573.76 314.29,574.01 314.8,574.01 315.36,574.01 315.36,574.5 316.51,574.5 316.51,575 317.5,575 317.5,575.35 318.78,575.35 318.78,576.11 320.45,576.11 320.45,576.79 322.38,576.79 322.38,577.78 323.53,577.78 324.46,577.78 324.46,578.98 325.97,578.98 325.97,579.72 327.79,579.72 327.79,581.33 329.52,581.33 329.52,581.94 329.99,581.94 330.77,581.94 330.77,582.79 332.19,582.79 332.19,583.49 333.62,583.49 333.62,584.34 334.88,584.34 334.88,584.86 336.58,584.86 336.58,586.19 338.24,586.19 338.24,586.66 338.67,586.66 339.11,586.66 339.11,586.76 340.68,586.76 340.68,587 342.32,587 342.32,587.11 343.88,587.11 343.88,587.34 345.73,587.34 345.73,587.51 346.96,587.51 346.96,587.61 347.4,587.61 348.61,587.61 348.61,589.54 350.9,589.54 350.9,591.27 352.68,591.27 352.68,592.4 354.46,592.4 354.46,594.12 355.83,594.12 355.83,594.6 356.13,594.6 356.82,594.6 356.82,595.58 357.97,595.58 357.97,596.24 359.34,596.24 359.34,597.53 361.12,597.53 361.12,598.78 363.43,598.78 363.43,600.83 364.86,600.83 366.1,600.83 366.1,602.75 368.22,602.75 368.22,604.14 369.76,604.14 369.76,605.15 371.57,605.15 371.57,606.96 373.16,606.96 373.16,607.63 373.6,607.63 374.05,607.63 374.05,608.16 375.44,608.16 375.44,609.26 377.35,609.26 377.35,610.41 378.83,610.41 378.83,610.98 380.31,610.98 380.31,612.15 381.97,612.15 381.97,612.92 382.62,612.92 383.27,612.92 383.27,614.02 384.62,614.02 384.62,615.21 385.83,615.21 385.83,616.08 386.91,616.08 386.91,617.05 388.68,617.05 388.68,619.08 390.47,619.08 390.47,620.1 391.06,620.1 392.35,620.1 392.35,621.83 394.89,621.83 394.89,623.49 397.06,623.49 397.06,624.73 398.58,624.73 398.58,625.52 399.63,625.52 399.63,626.14 400.09,626.14 400.94,626.14 400.94,627.17 402.56,627.17 402.56,628.1 404,628.1 404,628.92 406.02,628.92 406.02,630.55 408.1,630.55 408.1,631.43 408.82,631.43 409.46,631.43 409.46,632.2 410.92,632.2 410.92,633.21 412.22,633.21 412.22,633.77 413.67,633.77 413.67,634.96 415.45,634.96 415.45,635.93 416.9,635.93 416.9,636.72 417.55,636.72 418.88,636.72 418.88,637.09 421.56,637.09 421.56,637.48 422.91,637.48 423.2,637.48 423.2,638.07 424.22,638.07 424.22,639.55 425.46,639.55 425.46,640.6 427.03,640.6 427.03,642.76 428.09,642.76 429.16,642.76 429.16,644.38 430.78,644.38 430.78,645.22 431.91,645.22 431.91,646.09 432.95,646.09 432.95,646.8 434.25,646.8 434.25,648.05 435.08,648.05 435.72,648.05 435.72,648.84 437.32,648.84 437.32,650.02 439.12,650.02 439.12,651.03 441.03,651.03 441.03,652.36 442.12,652.36 442.74,652.36 442.74,654.25 444.16,654.25 444.16,656.74 444.98,656.74 445.37,656.74 445.37,657.48 446.73,657.48 446.73,659.26 448.25,659.26 448.25,660.3 449.34,660.3 449.34,661.28 449.87,661.28 450.48,661.28 450.48,662.3 451.68,662.3 451.68,663.27 453.04,663.27 453.04,664.56 453.82,664.56 454.64,664.56 454.64,665.56 456.17,665.56 456.17,666.43 457.99,666.43 457.99,667.78 460.04,667.78 460.04,668.93 461.36,668.93 461.36,669.39 462.12,669.39 462.12,669.85 462.5,669.85 462.97,669.85 462.97,671.5 464.22,671.5 464.22,674.24 465,674.24 466.34,674.24 466.34,675.43 468.64,675.43 468.64,676.29 469.99,676.29 469.99,676.63 471.59,676.63 471.59,677.72 473.85,677.72 473.85,678.66 474.9,678.66 475.7,678.66 475.7,680.13 477.42,680.13 477.42,681.83 479.2,681.83 479.2,683.4 480.77,683.4 480.77,684.72 482.5,684.72 482.5,686.59 483.52,686.59 484.29,686.59 484.29,687.34 485.85,687.34 485.85,688.1 487.91,688.1 487.91,689.34 489.77,689.34 489.77,689.9 491.02,689.9 491.02,690.56 492.91,690.56 492.91,691.73 494.11,691.73 494.5,691.73 494.5,692.28 496.04,692.28 496.04,693.91 498.19,693.91 498.19,695.33 499.95,695.33 499.95,696.4 501.3,696.4 501.3,697.26 502.38,697.26 502.38,697.92 502.85,697.92 503.59,697.92 503.59,700.51 504.63,700.51 504.63,701.5 505.4,701.5 505.4,703.18 506.11,703.18 506.11,703.97 506.34,703.97 507.15,703.97 507.15,705.12 508.62,705.12 508.62,706.04 509.75,706.04 509.75,706.71 511.13,706.71 511.13,707.98 513.15,707.98 513.15,709.56 514.67,709.56 514.67,710.13 515.07,710.13 515.58,710.13 515.58,711.03 517.11,711.03 517.11,712.87 519.15,712.87 519.15,714.68 521.04,714.68 521.04,716.27 522.26,716.27 522.26,716.85 523.19,716.85 523.19,717.95 523.81,717.95 525.09,717.95 525.09,719.77 527.68,719.77 527.68,721.62 529.99,721.62 529.99,723.06 531.38,723.06 531.38,723.59 532.15,723.59 532.15,724.14 532.54,724.14 533.04,724.14 533.04,725.01 534.42,725.01 534.42,726.56 536.47,726.56 536.47,728.58 538.58,728.58 538.58,730.23 539.52,730.23 539.95,730.23 539.95,730.96 540.95,730.96 540.95,731.93 542.66,731.93 542.66,733.89 544.24,733.89 544.24,734.64 545.19,734.64 545.19,735.51 545.7,735.51 546.06,735.51 546.06,737.16 546.65,737.16 546.65,738.25 547.35,738.25 547.35,740.35 548.09,740.35 548.09,741.64 548.37,741.64 548.79,741.64 548.79,742.29 549.88,742.29 549.88,743.35 550.93,743.35 550.93,743.95 551.68,743.95 551.68,744.53 552.91,744.53 552.91,745.88 554.51,745.88 554.51,747.04 555.24,747.04 556.56,747.04 556.56,748.29 558.38,748.29 558.38,748.77 559.68,748.77 559.68,749.53 560.48,749.53 560.98,749.53 560.98,750.72 562.2,750.72 562.2,752.44 563.55,752.44 563.55,753.96 564.6,753.96 564.6,754.97 565.02,754.97 565.56,754.97 565.56,756.3 566.38,756.3 566.38,757.03 567.44,757.03 567.44,758.96 568.58,758.96 568.58,759.86 569.28,759.86 569.28,760.71 569.62,760.71 570.53,760.71 570.53,761.61 572.76,761.61 572.76,762.94 575.05,762.94 575.05,763.89 577.03,763.89 577.03,764.91 578.7,764.91 578.7,765.55 580.1,765.55 580.1,766.31 580.86,766.31 581.51,766.31 581.51,766.85 583.36,766.85 583.36,767.85 585.51,767.85 585.51,768.63 586.96,768.63 586.96,769.07 588.11,769.07 588.11,769.59 589.6,769.59 589.6,770.31 590.47,770.31 591.46,770.31 591.46,771.95 592.92,771.95 592.92,772.73 594.35,772.73 594.35,774.31 595.3,774.31 596.27,774.31 596.27,775.68 597.65,775.68 597.65,776.26 599.04,776.26 599.04,777.64 600.44,777.64 600.44,778.23 601.31,778.23 601.31,778.87 602.57,778.87 602.57,780.02 603.39,780.02 603.88,780.02 603.88,780.99 605.4,780.99 605.4,783.03 607.33,783.03 607.33,784.82 608.22,784.82 608.9,784.82 608.9,785.63 610.74,785.63 610.74,787.03 612.27,787.03 612.27,787.48 613.73,787.48 613.73,788.79 615.22,788.79 615.22,789.26 615.91,789.26 615.91,789.62 616.2,789.62 617.47,789.62 617.47,791.38 619.73,791.38 619.73,792.77 621.28,792.77 621.28,793.53 622.27,793.53 622.27,794.15 623.47,794.15 623.47,795.21 624.23,795.21 625.03,795.21 625.03,797.01 626.73,797.01 626.73,799.09 628.02,799.09 628.02,799.94 628.79,799.94 628.79,800.84 629.18,800.84 629.85,800.84 629.85,801.8 631.08,801.8 631.08,802.59 632.28,802.59 632.28,803.52 633.86,803.52 633.86,804.84 635.45,804.84 635.45,805.8 636.61,805.8 636.61,806.5 637.1,806.5 637.48,806.5 637.48,807.35 638.78,807.35 638.78,809.44 640.49,809.44 640.49,811.2 642.17,811.2 642.17,813.24 643.29,813.24 643.29,813.72 643.51,813.72 644.51,813.72 644.51,815.73 646.24,815.73 646.24,817.17 647.75,817.17 647.75,818.74 649.22,818.74 649.22,820.1 649.91,820.1 650.54,820.1 650.54,822.35 651.6,822.35 651.6,823.87 652.28,823.87 652.28,824.77 652.79,824.77 652.79,825.7 653.05,825.7 653.2,825.7 653.2,826.95 653.46,826.95 653.46,827.82 653.9,827.82 653.9,830.67 654.52,830.67 654.52,833.02 654.8,833.02" fill="none" stroke="#d62728" stroke-width="1.85" stroke-linecap="square" stroke-linejoin="round"/>
<rect x="43.5" y="468.2" width="640.1" height="381.8" fill="none" stroke="#000" stroke-width="0.92"/>
<line x1="72.6" y1="850" x2="72.6" y2="854.04" stroke="#000" stroke-width="0.92"/>
<text x="63.71 70.9 74.7" y="868" font-size="12.2">0.0</text>
<line x1="189.04" y1="850" x2="189.04" y2="854.04" stroke="#000" stroke-width="0.92"/>
<text x="180.35 187.54 191.19" y="868" font-size="12.2">0.2</text>
<line x1="305.48" y1="850" x2="305.48" y2="854.04" stroke="#000" stroke-width="0.92"/>
<text x="296.53 303.72 307.52" y="868" font-size="12.2">0.4</text>
<line x1="421.92" y1="850" x2="421.92" y2="854.04" stroke="#000" stroke-width="0.92"/>
<text x="413.01 420.2 424" y="868" font-size="12.2">0.6</text>
<line x1="538.36" y1="850" x2="538.36" y2="854.04" stroke="#000" stroke-width="0.92"/>
<text x="529.48 536.67 540.47" y="868" font-size="12.2">0.8</text>
<line x1="654.8" y1="850" x2="654.8" y2="854.04" stroke="#000" stroke-width="0.92"/>
<text x="645.6 652.85 656.65" y="868" font-size="12.2">1.0</text>
<line x1="39.46" y1="787.84" x2="43.5" y2="787.84" stroke="#000" stroke-width="0.92"/>
<text x="17.5 24.69 28.34" y="793.04" font-size="12.2">0.2</text>
<line x1="39.46" y1="712.28" x2="43.5" y2="712.28" stroke="#000" stroke-width="0.92"/>
<text x="17 24.19 27.99" y="717.48" font-size="12.2">0.4</text>
<line x1="39.46" y1="636.72" x2="43.5" y2="636.72" stroke="#000" stroke-width="0.92"/>
<text x="17.07 24.26 28.07" y="641.92" font-size="12.2">0.6</text>
<line x1="39.46" y1="561.16" x2="43.5" y2="561.16" stroke="#000" stroke-width="0.92"/>
<text x="17.14 24.33 28.13" y="566.36" font-size="12.2">0.8</text>
<line x1="39.46" y1="485.6" x2="43.5" y2="485.6" stroke="#000" stroke-width="0.92"/>
<text x="17.05 24.3 28.1" y="490.8" font-size="12.2">1.0</text>
<text x="286.14 295.39 300.33 308.61 316.54 320.14 327.61 331.33 339.98 348.47 353.15 362.62 370.91 378.19 387.32 391.17 394.89 398.6 409.09 418.25 423.71 431.69" y="461.5" font-size="14.6">Precision-Recall Curve</text>
<text x="346.07 353.95 360.84 366.9 374.5 377.7" y="884" font-size="12.2">Recall</text>
<text transform="translate(11 685.5) rotate(-90)" x="-1.54 6.17 10.27 17.16 23.77 26.75 32.97 36.06 43.25" y="0" font-size="12.2">Precision</text>
<rect x="48.8" y="771.8" width="307.8" height="72.5" rx="2.3" fill="#fff" fill-opacity="0.8" stroke="#cccccc" stroke-opacity="0.8" stroke-width="1.15"/>
<line x1="53.4" y1="781.4" x2="76.5" y2="781.4" stroke="#1f77b4" stroke-width="1.85" stroke-linecap="square"/>
<text x="85 93.29 99.51 107.17 114.97 118.29 124.39 128.83 131.48 139.03 146.32 153.37 156.8 161.26 169.08 177.25 185.88 190.68 199.2 202.99 210.18 214 221.33 228.66 236.23" y="785.65" font-size="12.2">CTAS Triage (AUC = 0.333)</text>
<line x1="53.4" y1="798.5" x2="76.5" y2="798.5" stroke="#ff7f0e" stroke-width="1.85" stroke-linecap="square"/>
<text x="85.02 91.32 98.43 105.8 108.78 115.28 119.52 122.44 128.94 132.24 140.12 147.23 154.9 159.01 165.95 171.95 178.17 181.26 188.45 195.61 199.43 208.81 212.29 216.54 223.71 227.29 233.79 241.45 248.76 256.22 265.63 269.06 273.52 281.34 289.51 298.14 302.93 311.46 315.25 322.44 326.2 333.57 340.9 348.49" y="802.75" font-size="12.2">Logistic Regression with LASSO (AUC = 0.506)</text>
<line x1="53.4" y1="815.7" x2="76.5" y2="815.7" stroke="#2ca02c" stroke-width="1.85" stroke-linecap="square"/>
<text x="84.75 92.42 100.06 107.28 114.53 122 132.8 135.89 142.68 150.15 154.25 161.19 167.69 171.81 175.25 179.7 187.53 195.7 204.33 209.12 217.64 221.44 228.63 232.43 239.76 247.09 254.67" y="819.95" font-size="12.2">Random Forest (AUC = 0.608)</text>
<line x1="53.4" y1="832.9" x2="76.5" y2="832.9" stroke="#d62728" stroke-width="1.85" stroke-linecap="square"/>
<text x="85.62 93.37 103.13 107.01 114.57 121.93 125.06 132.25 139.81 143.93 147.31 155.49 162.54 169.48 175.99 180.11 183.54 188 195.82 203.99 212.62 217.41 225.93 229.73 236.92 240.72 247.9 255.34 262.96" y="837.15" font-size="12.2">XGradient Boost (AUC = 0.629)</text>
</g></svg></body></html>
